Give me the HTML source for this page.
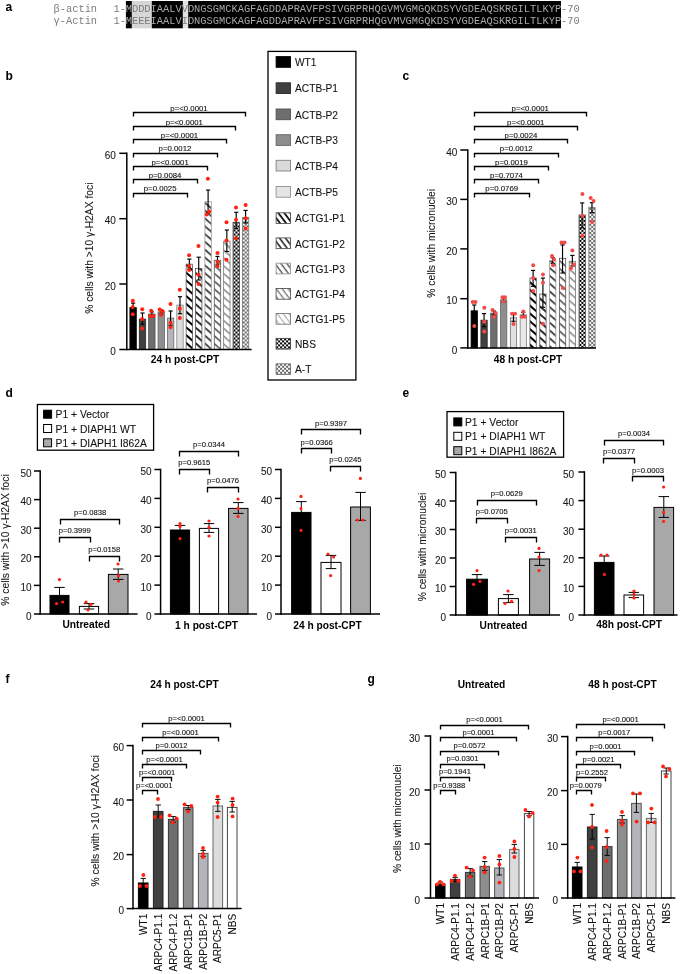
<!DOCTYPE html><html><head><meta charset="utf-8"><style>html,body{margin:0;padding:0;background:#fff;}svg{display:block;}</style></head><body>
<svg style="will-change:transform" width="685" height="974" viewBox="0 0 685 974">
<defs>
<pattern id="h1" patternUnits="userSpaceOnUse" width="5.9" height="5.9" patternTransform="rotate(41)"><rect width="5.9" height="5.9" fill="#fff"/><rect y="0" width="5.9" height="2.0" fill="#000"/></pattern>
<pattern id="h2" patternUnits="userSpaceOnUse" width="5.9" height="5.9" patternTransform="rotate(41)"><rect width="5.9" height="5.9" fill="#fff"/><rect y="0" width="5.9" height="1.8" fill="#1a1a1a"/></pattern>
<pattern id="h3" patternUnits="userSpaceOnUse" width="5.9" height="5.9" patternTransform="rotate(41)"><rect width="5.9" height="5.9" fill="#fff"/><rect y="0" width="5.9" height="1.7" fill="#363636"/></pattern>
<pattern id="h4" patternUnits="userSpaceOnUse" width="5.9" height="5.9" patternTransform="rotate(41)"><rect width="5.9" height="5.9" fill="#fff"/><rect y="0" width="5.9" height="1.6" fill="#555"/></pattern>
<pattern id="h5" patternUnits="userSpaceOnUse" width="5.9" height="5.9" patternTransform="rotate(41)"><rect width="5.9" height="5.9" fill="#fff"/><rect y="0" width="5.9" height="1.5" fill="#888"/></pattern>
<pattern id="lh1" patternUnits="userSpaceOnUse" width="4.75" height="4.75" patternTransform="rotate(53)"><rect width="4.75" height="4.75" fill="#fff"/><rect y="0" width="4.75" height="1.7" fill="#000"/></pattern>
<pattern id="lh2" patternUnits="userSpaceOnUse" width="4.75" height="4.75" patternTransform="rotate(53)"><rect width="4.75" height="4.75" fill="#fff"/><rect y="0" width="4.75" height="1.5" fill="#1a1a1a"/></pattern>
<pattern id="lh3" patternUnits="userSpaceOnUse" width="4.75" height="4.75" patternTransform="rotate(53)"><rect width="4.75" height="4.75" fill="#fff"/><rect y="0" width="4.75" height="1.4" fill="#555"/></pattern>
<pattern id="lh4" patternUnits="userSpaceOnUse" width="4.75" height="4.75" patternTransform="rotate(53)"><rect width="4.75" height="4.75" fill="#fff"/><rect y="0" width="4.75" height="1.3" fill="#777"/></pattern>
<pattern id="lh5" patternUnits="userSpaceOnUse" width="4.75" height="4.75" patternTransform="rotate(53)"><rect width="4.75" height="4.75" fill="#fff"/><rect y="0" width="4.75" height="1.2" fill="#b0b0b0"/></pattern>
<pattern id="nbs" patternUnits="userSpaceOnUse" width="2.4" height="2.4"><rect width="2.4" height="2.4" fill="#fff"/><rect width="1.2" height="1.2" fill="#000"/><rect x="1.2" y="1.2" width="1.2" height="1.2" fill="#000"/></pattern>
<pattern id="at" patternUnits="userSpaceOnUse" width="2.4" height="2.4"><rect width="2.4" height="2.4" fill="#fff"/><rect width="1.2" height="1.2" fill="#888"/><rect x="1.2" y="1.2" width="1.2" height="1.2" fill="#888"/></pattern>
</defs>
<rect width="685" height="974" fill="#fff"/>
<text x="5.6" y="10.6" font-size="12" text-anchor="start" font-weight="bold" fill="#000" font-family="Liberation Sans" >a</text>
<text x="5.6" y="80" font-size="12" text-anchor="start" font-weight="bold" fill="#000" font-family="Liberation Sans" >b</text>
<text x="402.4" y="80" font-size="12" text-anchor="start" font-weight="bold" fill="#000" font-family="Liberation Sans" >c</text>
<text x="5.6" y="397" font-size="12" text-anchor="start" font-weight="bold" fill="#000" font-family="Liberation Sans" >d</text>
<text x="402.4" y="397" font-size="12" text-anchor="start" font-weight="bold" fill="#000" font-family="Liberation Sans" >e</text>
<text x="5.6" y="683" font-size="12" text-anchor="start" font-weight="bold" fill="#000" font-family="Liberation Sans" >f</text>
<text x="367.4" y="682.6" font-size="12" text-anchor="start" font-weight="bold" fill="#000" font-family="Liberation Sans" >g</text>
<rect x="125.9" y="1" width="6" height="27.3" fill="#000" stroke="none" stroke-width="0.8"/>
<rect x="131.9" y="1" width="19.9" height="27.3" fill="#d6d6d6" stroke="none" stroke-width="0.8"/>
<rect x="151.8" y="1" width="31.1" height="27.3" fill="#000" stroke="none" stroke-width="0.8"/>
<rect x="182.9" y="1" width="5.3" height="27.3" fill="#e2e2e2" stroke="none" stroke-width="0.8"/>
<rect x="188.2" y="1" width="372.8" height="27.3" fill="#000" stroke="none" stroke-width="0.8"/>
<text x="53.6" y="12.1" font-size="10.35" text-anchor="start" font-weight="normal" fill="#7c7c7c" font-family="Liberation Mono" >&#946;-actin</text>
<text x="113.6" y="12.1" font-size="10.35" text-anchor="start" font-weight="normal" fill="#7c7c7c" font-family="Liberation Mono" >1-</text>
<text x="125.7" y="12.1" font-size="10.35" font-family="Liberation Mono" textLength="435.4" lengthAdjust="spacing"><tspan fill="#a8a8a8">M</tspan><tspan fill="#7c7c7c">D</tspan><tspan fill="#7c7c7c">D</tspan><tspan fill="#7c7c7c">D</tspan><tspan fill="#a8a8a8">I</tspan><tspan fill="#a8a8a8">A</tspan><tspan fill="#a8a8a8">A</tspan><tspan fill="#a8a8a8">L</tspan><tspan fill="#a8a8a8">V</tspan><tspan fill="#7c7c7c">V</tspan><tspan fill="#a8a8a8">D</tspan><tspan fill="#a8a8a8">N</tspan><tspan fill="#a8a8a8">G</tspan><tspan fill="#a8a8a8">S</tspan><tspan fill="#a8a8a8">G</tspan><tspan fill="#a8a8a8">M</tspan><tspan fill="#a8a8a8">C</tspan><tspan fill="#a8a8a8">K</tspan><tspan fill="#a8a8a8">A</tspan><tspan fill="#a8a8a8">G</tspan><tspan fill="#a8a8a8">F</tspan><tspan fill="#a8a8a8">A</tspan><tspan fill="#a8a8a8">G</tspan><tspan fill="#a8a8a8">D</tspan><tspan fill="#a8a8a8">D</tspan><tspan fill="#a8a8a8">A</tspan><tspan fill="#a8a8a8">P</tspan><tspan fill="#a8a8a8">R</tspan><tspan fill="#a8a8a8">A</tspan><tspan fill="#a8a8a8">V</tspan><tspan fill="#a8a8a8">F</tspan><tspan fill="#a8a8a8">P</tspan><tspan fill="#a8a8a8">S</tspan><tspan fill="#a8a8a8">I</tspan><tspan fill="#a8a8a8">V</tspan><tspan fill="#a8a8a8">G</tspan><tspan fill="#a8a8a8">R</tspan><tspan fill="#a8a8a8">P</tspan><tspan fill="#a8a8a8">R</tspan><tspan fill="#a8a8a8">H</tspan><tspan fill="#a8a8a8">Q</tspan><tspan fill="#a8a8a8">G</tspan><tspan fill="#a8a8a8">V</tspan><tspan fill="#a8a8a8">M</tspan><tspan fill="#a8a8a8">V</tspan><tspan fill="#a8a8a8">G</tspan><tspan fill="#a8a8a8">M</tspan><tspan fill="#a8a8a8">G</tspan><tspan fill="#a8a8a8">Q</tspan><tspan fill="#a8a8a8">K</tspan><tspan fill="#a8a8a8">D</tspan><tspan fill="#a8a8a8">S</tspan><tspan fill="#a8a8a8">Y</tspan><tspan fill="#a8a8a8">V</tspan><tspan fill="#a8a8a8">G</tspan><tspan fill="#a8a8a8">D</tspan><tspan fill="#a8a8a8">E</tspan><tspan fill="#a8a8a8">A</tspan><tspan fill="#a8a8a8">Q</tspan><tspan fill="#a8a8a8">S</tspan><tspan fill="#a8a8a8">K</tspan><tspan fill="#a8a8a8">R</tspan><tspan fill="#a8a8a8">G</tspan><tspan fill="#a8a8a8">I</tspan><tspan fill="#a8a8a8">L</tspan><tspan fill="#a8a8a8">T</tspan><tspan fill="#a8a8a8">L</tspan><tspan fill="#a8a8a8">K</tspan><tspan fill="#a8a8a8">Y</tspan><tspan fill="#a8a8a8">P</tspan></text>
<text x="561" y="12.1" font-size="10.35" text-anchor="start" font-weight="normal" fill="#7c7c7c" font-family="Liberation Mono" >-70</text>
<text x="53.6" y="24.4" font-size="10.35" text-anchor="start" font-weight="normal" fill="#7c7c7c" font-family="Liberation Mono" >&#947;-Actin</text>
<text x="113.6" y="24.4" font-size="10.35" text-anchor="start" font-weight="normal" fill="#7c7c7c" font-family="Liberation Mono" >1-</text>
<text x="125.7" y="24.4" font-size="10.35" font-family="Liberation Mono" textLength="435.4" lengthAdjust="spacing"><tspan fill="#a8a8a8">M</tspan><tspan fill="#7c7c7c">E</tspan><tspan fill="#7c7c7c">E</tspan><tspan fill="#7c7c7c">E</tspan><tspan fill="#a8a8a8">I</tspan><tspan fill="#a8a8a8">A</tspan><tspan fill="#a8a8a8">A</tspan><tspan fill="#a8a8a8">L</tspan><tspan fill="#a8a8a8">V</tspan><tspan fill="#7c7c7c">I</tspan><tspan fill="#a8a8a8">D</tspan><tspan fill="#a8a8a8">N</tspan><tspan fill="#a8a8a8">G</tspan><tspan fill="#a8a8a8">S</tspan><tspan fill="#a8a8a8">G</tspan><tspan fill="#a8a8a8">M</tspan><tspan fill="#a8a8a8">C</tspan><tspan fill="#a8a8a8">K</tspan><tspan fill="#a8a8a8">A</tspan><tspan fill="#a8a8a8">G</tspan><tspan fill="#a8a8a8">F</tspan><tspan fill="#a8a8a8">A</tspan><tspan fill="#a8a8a8">G</tspan><tspan fill="#a8a8a8">D</tspan><tspan fill="#a8a8a8">D</tspan><tspan fill="#a8a8a8">A</tspan><tspan fill="#a8a8a8">P</tspan><tspan fill="#a8a8a8">R</tspan><tspan fill="#a8a8a8">A</tspan><tspan fill="#a8a8a8">V</tspan><tspan fill="#a8a8a8">F</tspan><tspan fill="#a8a8a8">P</tspan><tspan fill="#a8a8a8">S</tspan><tspan fill="#a8a8a8">I</tspan><tspan fill="#a8a8a8">V</tspan><tspan fill="#a8a8a8">G</tspan><tspan fill="#a8a8a8">R</tspan><tspan fill="#a8a8a8">P</tspan><tspan fill="#a8a8a8">R</tspan><tspan fill="#a8a8a8">H</tspan><tspan fill="#a8a8a8">Q</tspan><tspan fill="#a8a8a8">G</tspan><tspan fill="#a8a8a8">V</tspan><tspan fill="#a8a8a8">M</tspan><tspan fill="#a8a8a8">V</tspan><tspan fill="#a8a8a8">G</tspan><tspan fill="#a8a8a8">M</tspan><tspan fill="#a8a8a8">G</tspan><tspan fill="#a8a8a8">Q</tspan><tspan fill="#a8a8a8">K</tspan><tspan fill="#a8a8a8">D</tspan><tspan fill="#a8a8a8">S</tspan><tspan fill="#a8a8a8">Y</tspan><tspan fill="#a8a8a8">V</tspan><tspan fill="#a8a8a8">G</tspan><tspan fill="#a8a8a8">D</tspan><tspan fill="#a8a8a8">E</tspan><tspan fill="#a8a8a8">A</tspan><tspan fill="#a8a8a8">Q</tspan><tspan fill="#a8a8a8">S</tspan><tspan fill="#a8a8a8">K</tspan><tspan fill="#a8a8a8">R</tspan><tspan fill="#a8a8a8">G</tspan><tspan fill="#a8a8a8">I</tspan><tspan fill="#a8a8a8">L</tspan><tspan fill="#a8a8a8">T</tspan><tspan fill="#a8a8a8">L</tspan><tspan fill="#a8a8a8">K</tspan><tspan fill="#a8a8a8">Y</tspan><tspan fill="#a8a8a8">P</tspan></text>
<text x="561" y="24.4" font-size="10.35" text-anchor="start" font-weight="normal" fill="#7c7c7c" font-family="Liberation Mono" >-70</text>
<line x1="126.8" y1="152.55" x2="126.8" y2="350.25" stroke="#000" stroke-width="1.5"/>
<line x1="119.3" y1="153.3" x2="126.8" y2="153.3" stroke="#000" stroke-width="1.5"/>
<text x="115.8" y="158.9" font-size="10" text-anchor="end" font-weight="normal" fill="#1a1a1a" font-family="Liberation Sans" stroke="#1a1a1a" stroke-width="0.08" >60</text>
<line x1="119.3" y1="218.7" x2="126.8" y2="218.7" stroke="#000" stroke-width="1.5"/>
<text x="115.8" y="224.3" font-size="10" text-anchor="end" font-weight="normal" fill="#1a1a1a" font-family="Liberation Sans" stroke="#1a1a1a" stroke-width="0.08" >40</text>
<line x1="119.3" y1="284" x2="126.8" y2="284" stroke="#000" stroke-width="1.5"/>
<text x="115.8" y="289.6" font-size="10" text-anchor="end" font-weight="normal" fill="#1a1a1a" font-family="Liberation Sans" stroke="#1a1a1a" stroke-width="0.08" >20</text>
<line x1="119.3" y1="349.5" x2="126.8" y2="349.5" stroke="#000" stroke-width="1.5"/>
<text x="115.8" y="355.1" font-size="10" text-anchor="end" font-weight="normal" fill="#1a1a1a" font-family="Liberation Sans" stroke="#1a1a1a" stroke-width="0.08" >0</text>
<rect x="129.9" y="307.6" width="6.4" height="41.9" fill="#000" stroke="#000" stroke-width="0.8"/>
<rect x="139.28" y="319.1" width="6.4" height="30.4" fill="#404040" stroke="#2a2a2a" stroke-width="0.8"/>
<rect x="148.65" y="314" width="6.4" height="35.5" fill="#6e6e6e" stroke="#505050" stroke-width="0.8"/>
<rect x="158.03" y="311.9" width="6.4" height="37.6" fill="#8e8e8e" stroke="#666" stroke-width="0.8"/>
<rect x="167.4" y="318.1" width="6.4" height="31.4" fill="#b4b4ba" stroke="#6a6a6a" stroke-width="0.8"/>
<rect x="176.78" y="305.1" width="6.4" height="44.4" fill="#dcdcdc" stroke="#8a8a8a" stroke-width="0.8"/>
<rect x="186.15" y="264.2" width="6.4" height="85.3" fill="url(#h1)" stroke="#555" stroke-width="0.8"/>
<rect x="195.53" y="268.4" width="6.4" height="81.1" fill="url(#h2)" stroke="#555" stroke-width="0.8"/>
<rect x="204.9" y="201.8" width="6.4" height="147.7" fill="url(#h3)" stroke="#999" stroke-width="0.8"/>
<rect x="214.28" y="260.3" width="6.4" height="89.2" fill="url(#h4)" stroke="#555" stroke-width="0.8"/>
<rect x="223.65" y="241.2" width="6.4" height="108.3" fill="url(#h5)" stroke="#777" stroke-width="0.8"/>
<defs><pattern id="ck1" patternUnits="userSpaceOnUse" x="233.43" y="349.5" width="4" height="4"><rect width="4" height="4" fill="#fff"/><rect width="2" height="2" fill="#000"/><rect x="2" y="2" width="2" height="2" fill="#000"/></pattern></defs>
<rect x="233.03" y="222.3" width="6.4" height="127.2" fill="url(#ck1)" stroke="#444" stroke-width="0.8"/>
<defs><pattern id="ck2" patternUnits="userSpaceOnUse" x="242.8" y="349.5" width="4" height="4"><rect width="4" height="4" fill="#fff"/><rect width="2" height="2" fill="#666"/><rect x="2" y="2" width="2" height="2" fill="#666"/></pattern></defs>
<rect x="242.4" y="217.4" width="6.4" height="132.1" fill="url(#ck2)" stroke="#777" stroke-width="0.8"/>
<line x1="133.1" y1="303.1" x2="133.1" y2="312.1" stroke="#000" stroke-width="1.15"/>
<line x1="131" y1="303.1" x2="135.2" y2="303.1" stroke="#000" stroke-width="1.15"/>
<line x1="131" y1="312.1" x2="135.2" y2="312.1" stroke="#000" stroke-width="1.15"/>
<line x1="142.47" y1="313" x2="142.47" y2="324.2" stroke="#000" stroke-width="1.15"/>
<line x1="140.38" y1="313" x2="144.57" y2="313" stroke="#000" stroke-width="1.15"/>
<line x1="140.38" y1="324.2" x2="144.57" y2="324.2" stroke="#000" stroke-width="1.15"/>
<line x1="151.85" y1="311.9" x2="151.85" y2="316.1" stroke="#000" stroke-width="1.15"/>
<line x1="149.75" y1="311.9" x2="153.95" y2="311.9" stroke="#000" stroke-width="1.15"/>
<line x1="149.75" y1="316.1" x2="153.95" y2="316.1" stroke="#000" stroke-width="1.15"/>
<line x1="161.22" y1="310" x2="161.22" y2="314" stroke="#000" stroke-width="1.15"/>
<line x1="159.12" y1="310" x2="163.32" y2="310" stroke="#000" stroke-width="1.15"/>
<line x1="159.12" y1="314" x2="163.32" y2="314" stroke="#000" stroke-width="1.15"/>
<line x1="170.6" y1="311" x2="170.6" y2="325.3" stroke="#000" stroke-width="1.15"/>
<line x1="168.5" y1="311" x2="172.7" y2="311" stroke="#000" stroke-width="1.15"/>
<line x1="168.5" y1="325.3" x2="172.7" y2="325.3" stroke="#000" stroke-width="1.15"/>
<line x1="179.97" y1="296.7" x2="179.97" y2="313.7" stroke="#000" stroke-width="1.15"/>
<line x1="177.88" y1="296.7" x2="182.07" y2="296.7" stroke="#000" stroke-width="1.15"/>
<line x1="177.88" y1="313.7" x2="182.07" y2="313.7" stroke="#000" stroke-width="1.15"/>
<line x1="189.35" y1="259.1" x2="189.35" y2="269.3" stroke="#000" stroke-width="1.15"/>
<line x1="187.25" y1="259.1" x2="191.45" y2="259.1" stroke="#000" stroke-width="1.15"/>
<line x1="187.25" y1="269.3" x2="191.45" y2="269.3" stroke="#000" stroke-width="1.15"/>
<line x1="198.72" y1="257.2" x2="198.72" y2="280" stroke="#000" stroke-width="1.15"/>
<line x1="196.62" y1="257.2" x2="200.82" y2="257.2" stroke="#000" stroke-width="1.15"/>
<line x1="196.62" y1="280" x2="200.82" y2="280" stroke="#000" stroke-width="1.15"/>
<line x1="208.1" y1="190.1" x2="208.1" y2="212.9" stroke="#000" stroke-width="1.15"/>
<line x1="206" y1="190.1" x2="210.2" y2="190.1" stroke="#000" stroke-width="1.15"/>
<line x1="206" y1="212.9" x2="210.2" y2="212.9" stroke="#000" stroke-width="1.15"/>
<line x1="217.47" y1="256.4" x2="217.47" y2="264.2" stroke="#000" stroke-width="1.15"/>
<line x1="215.38" y1="256.4" x2="219.57" y2="256.4" stroke="#000" stroke-width="1.15"/>
<line x1="215.38" y1="264.2" x2="219.57" y2="264.2" stroke="#000" stroke-width="1.15"/>
<line x1="226.85" y1="230" x2="226.85" y2="251.5" stroke="#000" stroke-width="1.15"/>
<line x1="224.75" y1="230" x2="228.95" y2="230" stroke="#000" stroke-width="1.15"/>
<line x1="224.75" y1="251.5" x2="228.95" y2="251.5" stroke="#000" stroke-width="1.15"/>
<line x1="236.22" y1="212.3" x2="236.22" y2="228.5" stroke="#000" stroke-width="1.15"/>
<line x1="234.12" y1="212.3" x2="238.32" y2="212.3" stroke="#000" stroke-width="1.15"/>
<line x1="234.12" y1="228.5" x2="238.32" y2="228.5" stroke="#000" stroke-width="1.15"/>
<line x1="245.6" y1="210.4" x2="245.6" y2="223" stroke="#000" stroke-width="1.15"/>
<line x1="243.5" y1="210.4" x2="247.7" y2="210.4" stroke="#000" stroke-width="1.15"/>
<line x1="243.5" y1="223" x2="247.7" y2="223" stroke="#000" stroke-width="1.15"/>
<circle cx="132.8" cy="300.8" r="2.0" fill="#ff2212"/>
<circle cx="132.8" cy="307" r="2.0" fill="#ff2212"/>
<circle cx="132.8" cy="314.2" r="2.0" fill="#ff2212"/>
<circle cx="142.2" cy="309.2" r="2.0" fill="#ff2212"/>
<circle cx="142.2" cy="319.1" r="2.0" fill="#ff2212"/>
<circle cx="142.2" cy="328.6" r="2.0" fill="#ff2212"/>
<circle cx="151.2" cy="310.7" r="2.0" fill="#ff2212"/>
<circle cx="150.1" cy="316" r="2.0" fill="#ff2212"/>
<circle cx="153.3" cy="316" r="2.0" fill="#ff2212"/>
<circle cx="159.7" cy="309.6" r="2.0" fill="#ff2212"/>
<circle cx="162.6" cy="311.3" r="2.0" fill="#ff2212"/>
<circle cx="160.9" cy="314.8" r="2.0" fill="#ff2212"/>
<circle cx="170.5" cy="304.1" r="2.0" fill="#ff2212"/>
<circle cx="170.5" cy="322.8" r="2.0" fill="#ff2212"/>
<circle cx="170.5" cy="327.3" r="2.0" fill="#ff2212"/>
<circle cx="179.8" cy="289.7" r="2.0" fill="#ff2212"/>
<circle cx="179.8" cy="308.6" r="2.0" fill="#ff2212"/>
<circle cx="179.8" cy="318.1" r="2.0" fill="#ff2212"/>
<circle cx="189.1" cy="255.3" r="2.0" fill="#ff2212"/>
<circle cx="189.1" cy="265.8" r="2.0" fill="#ff2212"/>
<circle cx="189.1" cy="270.1" r="2.0" fill="#ff2212"/>
<circle cx="198.5" cy="246" r="2.0" fill="#ff2212"/>
<circle cx="198.5" cy="274.8" r="2.0" fill="#ff2212"/>
<circle cx="198.5" cy="284.1" r="2.0" fill="#ff2212"/>
<circle cx="207.9" cy="178.8" r="2.0" fill="#ff2212"/>
<circle cx="209.3" cy="211.5" r="2.0" fill="#ff2212"/>
<circle cx="206.7" cy="214.5" r="2.0" fill="#ff2212"/>
<circle cx="217.5" cy="252.9" r="2.0" fill="#ff2212"/>
<circle cx="217.5" cy="261.7" r="2.0" fill="#ff2212"/>
<circle cx="217.5" cy="266.2" r="2.0" fill="#ff2212"/>
<circle cx="226.5" cy="222.3" r="2.0" fill="#ff2212"/>
<circle cx="226.5" cy="240.6" r="2.0" fill="#ff2212"/>
<circle cx="226.5" cy="259.7" r="2.0" fill="#ff2212"/>
<circle cx="236" cy="207.6" r="2.0" fill="#ff2212"/>
<circle cx="236" cy="219.7" r="2.0" fill="#ff2212"/>
<circle cx="236" cy="238.3" r="2.0" fill="#ff2212"/>
<circle cx="245.6" cy="205.1" r="2.0" fill="#ff2212"/>
<circle cx="245.6" cy="218.2" r="2.0" fill="#ff2212"/>
<circle cx="245.6" cy="228.5" r="2.0" fill="#ff2212"/>
<line x1="126.25" y1="349.5" x2="251.6" y2="349.5" stroke="#000" stroke-width="1.5"/>
<path d="M133.5,116.5 V112.5 H245.5 V116.5" fill="none" stroke="#000" stroke-width="1.35"/>
<text transform="translate(189,111.1) scale(1.15,1)" font-size="6.8" text-anchor="middle" fill="#111" stroke="#111" stroke-width="0.1" font-family="Liberation Sans">p=&lt;0.0001</text>
<path d="M133.5,130.5 V126.5 H235.5 V130.5" fill="none" stroke="#000" stroke-width="1.35"/>
<text transform="translate(184.3,124.8) scale(1.15,1)" font-size="6.8" text-anchor="middle" fill="#111" stroke="#111" stroke-width="0.1" font-family="Liberation Sans">p=&lt;0.0001</text>
<path d="M133.5,143.5 V139.5 H226.5 V143.5" fill="none" stroke="#000" stroke-width="1.35"/>
<text transform="translate(179.5,138.1) scale(1.15,1)" font-size="6.8" text-anchor="middle" fill="#111" stroke="#111" stroke-width="0.1" font-family="Liberation Sans">p=&lt;0.0001</text>
<path d="M133.5,157.5 V153.5 H217.5 V157.5" fill="none" stroke="#000" stroke-width="1.35"/>
<text transform="translate(175,151.3) scale(1.15,1)" font-size="6.8" text-anchor="middle" fill="#111" stroke="#111" stroke-width="0.1" font-family="Liberation Sans">p=0.0012</text>
<path d="M133.5,170.5 V166.5 H207.5 V170.5" fill="none" stroke="#000" stroke-width="1.35"/>
<text transform="translate(170.1,164.6) scale(1.15,1)" font-size="6.8" text-anchor="middle" fill="#111" stroke="#111" stroke-width="0.1" font-family="Liberation Sans">p=&lt;0.0001</text>
<path d="M133.5,183.5 V179.5 H197.5 V183.5" fill="none" stroke="#000" stroke-width="1.35"/>
<text transform="translate(165.05,177.9) scale(1.15,1)" font-size="6.8" text-anchor="middle" fill="#111" stroke="#111" stroke-width="0.1" font-family="Liberation Sans">p=0.0084</text>
<path d="M133.5,197.5 V193.5 H187.5 V197.5" fill="none" stroke="#000" stroke-width="1.35"/>
<text transform="translate(160.15,191.2) scale(1.15,1)" font-size="6.8" text-anchor="middle" fill="#111" stroke="#111" stroke-width="0.1" font-family="Liberation Sans">p=0.0025</text>
<text transform="translate(92.5,248.2) rotate(-90)" font-size="10.3" text-anchor="middle" font-weight="normal" fill="#1a1a1a" stroke="#1a1a1a" stroke-width="0.08" font-family="Liberation Sans">% cells with &gt;10 &#947;-H2AX foci</text>
<text x="185" y="362.6" font-size="10.2" text-anchor="middle" font-weight="bold" fill="#000" font-family="Liberation Sans" >24 h post-CPT</text>
<rect x="268" y="51.4" width="87.9" height="328.6" fill="none" stroke="#000" stroke-width="1.3"/>
<rect x="276.1" y="56.6" width="14.4" height="10.7" fill="#000" stroke="#000" stroke-width="0.9"/>
<text x="295" y="66.2" font-size="10.2" text-anchor="start" font-weight="normal" fill="#111" font-family="Liberation Sans" stroke="#111" stroke-width="0.08" >WT1</text>
<rect x="276.1" y="82.8" width="14.4" height="10.7" fill="#404040" stroke="#2a2a2a" stroke-width="0.9"/>
<text x="295" y="92.4" font-size="10.2" text-anchor="start" font-weight="normal" fill="#111" font-family="Liberation Sans" stroke="#111" stroke-width="0.08" >ACTB-P1</text>
<rect x="276.1" y="109" width="14.4" height="10.7" fill="#6e6e6e" stroke="#505050" stroke-width="0.9"/>
<text x="295" y="118.6" font-size="10.2" text-anchor="start" font-weight="normal" fill="#111" font-family="Liberation Sans" stroke="#111" stroke-width="0.08" >ACTB-P2</text>
<rect x="276.1" y="134.7" width="14.4" height="10.7" fill="#8e8e8e" stroke="#666" stroke-width="0.9"/>
<text x="295" y="144.3" font-size="10.2" text-anchor="start" font-weight="normal" fill="#111" font-family="Liberation Sans" stroke="#111" stroke-width="0.08" >ACTB-P3</text>
<rect x="276.1" y="160.3" width="14.4" height="10.7" fill="#d9d9d9" stroke="#808080" stroke-width="0.9"/>
<text x="295" y="169.9" font-size="10.2" text-anchor="start" font-weight="normal" fill="#111" font-family="Liberation Sans" stroke="#111" stroke-width="0.08" >ACTB-P4</text>
<rect x="276.1" y="186.5" width="14.4" height="10.7" fill="#e5e5e5" stroke="#909090" stroke-width="0.9"/>
<text x="295" y="196.1" font-size="10.2" text-anchor="start" font-weight="normal" fill="#111" font-family="Liberation Sans" stroke="#111" stroke-width="0.08" >ACTB-P5</text>
<rect x="276.1" y="212.8" width="14.4" height="10.7" fill="url(#lh1)" stroke="#555" stroke-width="0.9"/>
<text x="295" y="222.4" font-size="10.2" text-anchor="start" font-weight="normal" fill="#111" font-family="Liberation Sans" stroke="#111" stroke-width="0.08" >ACTG1-P1</text>
<rect x="276.1" y="237.9" width="14.4" height="10.7" fill="url(#lh2)" stroke="#555" stroke-width="0.9"/>
<text x="295" y="247.5" font-size="10.2" text-anchor="start" font-weight="normal" fill="#111" font-family="Liberation Sans" stroke="#111" stroke-width="0.08" >ACTG1-P2</text>
<rect x="276.1" y="263.2" width="14.4" height="10.7" fill="url(#lh3)" stroke="#999" stroke-width="0.9"/>
<text x="295" y="272.8" font-size="10.2" text-anchor="start" font-weight="normal" fill="#111" font-family="Liberation Sans" stroke="#111" stroke-width="0.08" >ACTG1-P3</text>
<rect x="276.1" y="288.5" width="14.4" height="10.7" fill="url(#lh4)" stroke="#555" stroke-width="0.9"/>
<text x="295" y="298.1" font-size="10.2" text-anchor="start" font-weight="normal" fill="#111" font-family="Liberation Sans" stroke="#111" stroke-width="0.08" >ACTG1-P4</text>
<rect x="276.1" y="313.5" width="14.4" height="10.7" fill="url(#lh5)" stroke="#777" stroke-width="0.9"/>
<text x="295" y="323.1" font-size="10.2" text-anchor="start" font-weight="normal" fill="#111" font-family="Liberation Sans" stroke="#111" stroke-width="0.08" >ACTG1-P5</text>
<defs><pattern id="ck3" patternUnits="userSpaceOnUse" x="276.1" y="338.4" width="4" height="4"><rect width="4" height="4" fill="#fff"/><rect width="2" height="2" fill="#000"/><rect x="2" y="2" width="2" height="2" fill="#000"/></pattern></defs>
<rect x="276.1" y="338.4" width="14.4" height="10.7" fill="url(#ck3)" stroke="#444" stroke-width="0.9"/>
<text x="295" y="348" font-size="10.2" text-anchor="start" font-weight="normal" fill="#111" font-family="Liberation Sans" stroke="#111" stroke-width="0.08" >NBS</text>
<defs><pattern id="ck4" patternUnits="userSpaceOnUse" x="276.1" y="363.8" width="4" height="4"><rect width="4" height="4" fill="#fff"/><rect width="2" height="2" fill="#666"/><rect x="2" y="2" width="2" height="2" fill="#666"/></pattern></defs>
<rect x="276.1" y="363.8" width="14.4" height="10.7" fill="url(#ck4)" stroke="#777" stroke-width="0.9"/>
<text x="295" y="373.4" font-size="10.2" text-anchor="start" font-weight="normal" fill="#111" font-family="Liberation Sans" stroke="#111" stroke-width="0.08" >A-T</text>
<line x1="467.8" y1="149.25" x2="467.8" y2="348.65" stroke="#000" stroke-width="1.5"/>
<line x1="460.3" y1="150" x2="467.8" y2="150" stroke="#000" stroke-width="1.5"/>
<text x="457.3" y="155.6" font-size="10" text-anchor="end" font-weight="normal" fill="#1a1a1a" font-family="Liberation Sans" stroke="#1a1a1a" stroke-width="0.08" >40</text>
<line x1="460.3" y1="199.4" x2="467.8" y2="199.4" stroke="#000" stroke-width="1.5"/>
<text x="457.3" y="205" font-size="10" text-anchor="end" font-weight="normal" fill="#1a1a1a" font-family="Liberation Sans" stroke="#1a1a1a" stroke-width="0.08" >30</text>
<line x1="460.3" y1="248.9" x2="467.8" y2="248.9" stroke="#000" stroke-width="1.5"/>
<text x="457.3" y="254.5" font-size="10" text-anchor="end" font-weight="normal" fill="#1a1a1a" font-family="Liberation Sans" stroke="#1a1a1a" stroke-width="0.08" >20</text>
<line x1="460.3" y1="298.7" x2="467.8" y2="298.7" stroke="#000" stroke-width="1.5"/>
<text x="457.3" y="304.3" font-size="10" text-anchor="end" font-weight="normal" fill="#1a1a1a" font-family="Liberation Sans" stroke="#1a1a1a" stroke-width="0.08" >10</text>
<line x1="460.3" y1="347.9" x2="467.8" y2="347.9" stroke="#000" stroke-width="1.5"/>
<text x="457.3" y="353.5" font-size="10" text-anchor="end" font-weight="normal" fill="#1a1a1a" font-family="Liberation Sans" stroke="#1a1a1a" stroke-width="0.08" >0</text>
<rect x="471.1" y="310.8" width="6.3" height="37.1" fill="#000" stroke="#000" stroke-width="0.8"/>
<rect x="480.91" y="320.2" width="6.3" height="27.7" fill="#404040" stroke="#2a2a2a" stroke-width="0.8"/>
<rect x="490.72" y="313.1" width="6.3" height="34.8" fill="#6e6e6e" stroke="#505050" stroke-width="0.8"/>
<rect x="500.53" y="299.8" width="6.3" height="48.1" fill="#8e8e8e" stroke="#666" stroke-width="0.8"/>
<rect x="510.34" y="317.8" width="6.3" height="30.1" fill="#e0e0e0" stroke="#707070" stroke-width="0.8"/>
<rect x="520.15" y="314.8" width="6.3" height="33.1" fill="#e8e8e8" stroke="#808080" stroke-width="0.8"/>
<rect x="529.96" y="278.1" width="6.3" height="69.8" fill="url(#h1)" stroke="#555" stroke-width="0.8"/>
<rect x="539.77" y="294" width="6.3" height="53.9" fill="url(#h2)" stroke="#555" stroke-width="0.8"/>
<rect x="549.58" y="260.6" width="6.3" height="87.3" fill="url(#h3)" stroke="#999" stroke-width="0.8"/>
<rect x="559.39" y="258.3" width="6.3" height="89.6" fill="url(#h4)" stroke="#555" stroke-width="0.8"/>
<rect x="569.2" y="261.3" width="6.3" height="86.6" fill="url(#h5)" stroke="#777" stroke-width="0.8"/>
<defs><pattern id="ck5" patternUnits="userSpaceOnUse" x="579.41" y="347.9" width="4" height="4"><rect width="4" height="4" fill="#fff"/><rect width="2" height="2" fill="#000"/><rect x="2" y="2" width="2" height="2" fill="#000"/></pattern></defs>
<rect x="579.01" y="215" width="6.3" height="132.9" fill="url(#ck5)" stroke="#444" stroke-width="0.8"/>
<defs><pattern id="ck6" patternUnits="userSpaceOnUse" x="589.22" y="347.9" width="4" height="4"><rect width="4" height="4" fill="#fff"/><rect width="2" height="2" fill="#666"/><rect x="2" y="2" width="2" height="2" fill="#666"/></pattern></defs>
<rect x="588.82" y="207.3" width="6.3" height="140.6" fill="url(#ck6)" stroke="#777" stroke-width="0.8"/>
<line x1="474.25" y1="305" x2="474.25" y2="316.6" stroke="#000" stroke-width="1.15"/>
<line x1="472.15" y1="305" x2="476.35" y2="305" stroke="#000" stroke-width="1.15"/>
<line x1="472.15" y1="316.6" x2="476.35" y2="316.6" stroke="#000" stroke-width="1.15"/>
<line x1="484.06" y1="313.6" x2="484.06" y2="326.7" stroke="#000" stroke-width="1.15"/>
<line x1="481.96" y1="313.6" x2="486.16" y2="313.6" stroke="#000" stroke-width="1.15"/>
<line x1="481.96" y1="326.7" x2="486.16" y2="326.7" stroke="#000" stroke-width="1.15"/>
<line x1="493.87" y1="311" x2="493.87" y2="315.2" stroke="#000" stroke-width="1.15"/>
<line x1="491.77" y1="311" x2="495.97" y2="311" stroke="#000" stroke-width="1.15"/>
<line x1="491.77" y1="315.2" x2="495.97" y2="315.2" stroke="#000" stroke-width="1.15"/>
<line x1="503.68" y1="297.5" x2="503.68" y2="302" stroke="#000" stroke-width="1.15"/>
<line x1="501.58" y1="297.5" x2="505.78" y2="297.5" stroke="#000" stroke-width="1.15"/>
<line x1="501.58" y1="302" x2="505.78" y2="302" stroke="#000" stroke-width="1.15"/>
<line x1="513.49" y1="314.3" x2="513.49" y2="321.3" stroke="#000" stroke-width="1.15"/>
<line x1="511.39" y1="314.3" x2="515.59" y2="314.3" stroke="#000" stroke-width="1.15"/>
<line x1="511.39" y1="321.3" x2="515.59" y2="321.3" stroke="#000" stroke-width="1.15"/>
<line x1="523.3" y1="312.5" x2="523.3" y2="317" stroke="#000" stroke-width="1.15"/>
<line x1="521.2" y1="312.5" x2="525.4" y2="312.5" stroke="#000" stroke-width="1.15"/>
<line x1="521.2" y1="317" x2="525.4" y2="317" stroke="#000" stroke-width="1.15"/>
<line x1="533.11" y1="270.4" x2="533.11" y2="286.3" stroke="#000" stroke-width="1.15"/>
<line x1="531.01" y1="270.4" x2="535.21" y2="270.4" stroke="#000" stroke-width="1.15"/>
<line x1="531.01" y1="286.3" x2="535.21" y2="286.3" stroke="#000" stroke-width="1.15"/>
<line x1="542.92" y1="278.1" x2="542.92" y2="307.3" stroke="#000" stroke-width="1.15"/>
<line x1="540.82" y1="278.1" x2="545.02" y2="278.1" stroke="#000" stroke-width="1.15"/>
<line x1="540.82" y1="307.3" x2="545.02" y2="307.3" stroke="#000" stroke-width="1.15"/>
<line x1="552.73" y1="257.8" x2="552.73" y2="263.4" stroke="#000" stroke-width="1.15"/>
<line x1="550.63" y1="257.8" x2="554.83" y2="257.8" stroke="#000" stroke-width="1.15"/>
<line x1="550.63" y1="263.4" x2="554.83" y2="263.4" stroke="#000" stroke-width="1.15"/>
<line x1="562.54" y1="244.9" x2="562.54" y2="273" stroke="#000" stroke-width="1.15"/>
<line x1="560.44" y1="244.9" x2="564.64" y2="244.9" stroke="#000" stroke-width="1.15"/>
<line x1="560.44" y1="273" x2="564.64" y2="273" stroke="#000" stroke-width="1.15"/>
<line x1="572.35" y1="255.4" x2="572.35" y2="266" stroke="#000" stroke-width="1.15"/>
<line x1="570.25" y1="255.4" x2="574.45" y2="255.4" stroke="#000" stroke-width="1.15"/>
<line x1="570.25" y1="266" x2="574.45" y2="266" stroke="#000" stroke-width="1.15"/>
<line x1="582.16" y1="202.9" x2="582.16" y2="227.9" stroke="#000" stroke-width="1.15"/>
<line x1="580.06" y1="202.9" x2="584.26" y2="202.9" stroke="#000" stroke-width="1.15"/>
<line x1="580.06" y1="227.9" x2="584.26" y2="227.9" stroke="#000" stroke-width="1.15"/>
<line x1="591.97" y1="202.7" x2="591.97" y2="212.7" stroke="#000" stroke-width="1.15"/>
<line x1="589.87" y1="202.7" x2="594.07" y2="202.7" stroke="#000" stroke-width="1.15"/>
<line x1="589.87" y1="212.7" x2="594.07" y2="212.7" stroke="#000" stroke-width="1.15"/>
<circle cx="472.7" cy="301.9" r="2.0" fill="#f24a46"/>
<circle cx="475.5" cy="301.9" r="2.0" fill="#f24a46"/>
<circle cx="474.3" cy="326" r="2.0" fill="#f24a46"/>
<circle cx="484.3" cy="307.8" r="2.0" fill="#f24a46"/>
<circle cx="484.3" cy="321.8" r="2.0" fill="#f24a46"/>
<circle cx="484.3" cy="331.4" r="2.0" fill="#f24a46"/>
<circle cx="492.5" cy="310.1" r="2.0" fill="#f24a46"/>
<circle cx="495.5" cy="313.1" r="2.0" fill="#f24a46"/>
<circle cx="494" cy="316.7" r="2.0" fill="#f24a46"/>
<circle cx="502.5" cy="297.3" r="2.0" fill="#f24a46"/>
<circle cx="505" cy="297.3" r="2.0" fill="#f24a46"/>
<circle cx="503.7" cy="301.5" r="2.0" fill="#f24a46"/>
<circle cx="512" cy="313.8" r="2.0" fill="#f24a46"/>
<circle cx="515" cy="313.8" r="2.0" fill="#f24a46"/>
<circle cx="513.5" cy="324.1" r="2.0" fill="#f24a46"/>
<circle cx="523.3" cy="311.5" r="2.0" fill="#f24a46"/>
<circle cx="521.8" cy="316.7" r="2.0" fill="#f24a46"/>
<circle cx="524.8" cy="316.7" r="2.0" fill="#f24a46"/>
<circle cx="533.2" cy="265.3" r="2.0" fill="#f24a46"/>
<circle cx="533.2" cy="278.1" r="2.0" fill="#f24a46"/>
<circle cx="533.2" cy="291" r="2.0" fill="#f24a46"/>
<circle cx="543" cy="274.6" r="2.0" fill="#f24a46"/>
<circle cx="543" cy="282.8" r="2.0" fill="#f24a46"/>
<circle cx="543" cy="323.7" r="2.0" fill="#f24a46"/>
<circle cx="552" cy="255.9" r="2.0" fill="#f24a46"/>
<circle cx="554" cy="259.4" r="2.0" fill="#f24a46"/>
<circle cx="553" cy="265.3" r="2.0" fill="#f24a46"/>
<circle cx="561.5" cy="242.4" r="2.0" fill="#f24a46"/>
<circle cx="564.5" cy="242.4" r="2.0" fill="#f24a46"/>
<circle cx="562.9" cy="287.9" r="2.0" fill="#f24a46"/>
<circle cx="572.4" cy="250.5" r="2.0" fill="#f24a46"/>
<circle cx="573.8" cy="264.5" r="2.0" fill="#f24a46"/>
<circle cx="571" cy="268.3" r="2.0" fill="#f24a46"/>
<circle cx="582.4" cy="194" r="2.0" fill="#f24a46"/>
<circle cx="582.4" cy="215.7" r="2.0" fill="#f24a46"/>
<circle cx="582.4" cy="235.4" r="2.0" fill="#f24a46"/>
<circle cx="590.7" cy="198" r="2.0" fill="#f24a46"/>
<circle cx="593.5" cy="201" r="2.0" fill="#f24a46"/>
<circle cx="592" cy="222" r="2.0" fill="#f24a46"/>
<line x1="467.25" y1="347.9" x2="596" y2="347.9" stroke="#000" stroke-width="1.5"/>
<path d="M474.5,116.5 V112.5 H586.5 V116.5" fill="none" stroke="#000" stroke-width="1.35"/>
<text transform="translate(530.25,111.1) scale(1.15,1)" font-size="6.8" text-anchor="middle" fill="#111" stroke="#111" stroke-width="0.1" font-family="Liberation Sans">p=&lt;0.0001</text>
<path d="M474.5,130.5 V126.5 H577.5 V130.5" fill="none" stroke="#000" stroke-width="1.35"/>
<text transform="translate(525.7,124.8) scale(1.15,1)" font-size="6.8" text-anchor="middle" fill="#111" stroke="#111" stroke-width="0.1" font-family="Liberation Sans">p=&lt;0.0001</text>
<path d="M474.5,143.5 V139.5 H567.5 V143.5" fill="none" stroke="#000" stroke-width="1.35"/>
<text transform="translate(520.95,138.1) scale(1.15,1)" font-size="6.8" text-anchor="middle" fill="#111" stroke="#111" stroke-width="0.1" font-family="Liberation Sans">p=0.0024</text>
<path d="M474.5,157.5 V153.5 H558.5 V157.5" fill="none" stroke="#000" stroke-width="1.35"/>
<text transform="translate(516.2,151.3) scale(1.15,1)" font-size="6.8" text-anchor="middle" fill="#111" stroke="#111" stroke-width="0.1" font-family="Liberation Sans">p=0.0012</text>
<path d="M474.5,170.5 V166.5 H548.5 V170.5" fill="none" stroke="#000" stroke-width="1.35"/>
<text transform="translate(511.45,164.6) scale(1.15,1)" font-size="6.8" text-anchor="middle" fill="#111" stroke="#111" stroke-width="0.1" font-family="Liberation Sans">p=0.0019</text>
<path d="M474.5,183.5 V179.5 H538.5 V183.5" fill="none" stroke="#000" stroke-width="1.35"/>
<text transform="translate(506.5,177.9) scale(1.15,1)" font-size="6.8" text-anchor="middle" fill="#111" stroke="#111" stroke-width="0.1" font-family="Liberation Sans">p=0.7074</text>
<path d="M474.5,197.5 V193.5 H529.5 V197.5" fill="none" stroke="#000" stroke-width="1.35"/>
<text transform="translate(501.7,191.2) scale(1.15,1)" font-size="6.8" text-anchor="middle" fill="#111" stroke="#111" stroke-width="0.1" font-family="Liberation Sans">p=0.0769</text>
<text transform="translate(435,243.3) rotate(-90)" font-size="10.3" text-anchor="middle" font-weight="normal" fill="#1a1a1a" stroke="#1a1a1a" stroke-width="0.08" font-family="Liberation Sans">% cells with micronuclei</text>
<text x="528" y="362.7" font-size="10.2" text-anchor="middle" font-weight="bold" fill="#000" font-family="Liberation Sans" >48 h post-CPT</text>
<rect x="37.4" y="404.5" width="116.2" height="45.7" fill="none" stroke="#000" stroke-width="1.3"/>
<rect x="43.6" y="410.2" width="8" height="8" fill="#000" stroke="#000" stroke-width="1.0"/>
<text x="55.6" y="418.2" font-size="10.3" text-anchor="start" font-weight="normal" fill="#111" font-family="Liberation Sans" stroke="#111" stroke-width="0.08" >P1 + Vector</text>
<rect x="43.6" y="424.5" width="8" height="8" fill="#fff" stroke="#000" stroke-width="1.0"/>
<text x="55.6" y="432.5" font-size="10.3" text-anchor="start" font-weight="normal" fill="#111" font-family="Liberation Sans" stroke="#111" stroke-width="0.08" >P1 + DIAPH1 WT</text>
<rect x="43.6" y="438.8" width="8" height="8" fill="#a8a8a8" stroke="#000" stroke-width="1.0"/>
<text x="55.6" y="446.8" font-size="10.3" text-anchor="start" font-weight="normal" fill="#111" font-family="Liberation Sans" stroke="#111" stroke-width="0.08" >P1 + DIAPH1 I862A</text>
<rect x="447" y="411.6" width="116.6" height="45.6" fill="none" stroke="#000" stroke-width="1.3"/>
<rect x="453.8" y="417.9" width="8" height="8" fill="#000" stroke="#000" stroke-width="1.0"/>
<text x="465" y="425.8" font-size="10.3" text-anchor="start" font-weight="normal" fill="#111" font-family="Liberation Sans" stroke="#111" stroke-width="0.08" >P1 + Vector</text>
<rect x="453.8" y="432.3" width="8" height="8" fill="#fff" stroke="#000" stroke-width="1.0"/>
<text x="465" y="440.2" font-size="10.3" text-anchor="start" font-weight="normal" fill="#111" font-family="Liberation Sans" stroke="#111" stroke-width="0.08" >P1 + DIAPH1 WT</text>
<rect x="453.8" y="446.7" width="8" height="8" fill="#a8a8a8" stroke="#000" stroke-width="1.0"/>
<text x="465" y="454.6" font-size="10.3" text-anchor="start" font-weight="normal" fill="#111" font-family="Liberation Sans" stroke="#111" stroke-width="0.08" >P1 + DIAPH1 I862A</text>
<line x1="40.2" y1="470.25" x2="40.2" y2="614.75" stroke="#000" stroke-width="1.5"/>
<line x1="34" y1="614" x2="40.2" y2="614" stroke="#000" stroke-width="1.5"/>
<text x="31.6" y="619.6" font-size="10" text-anchor="end" font-weight="normal" fill="#1a1a1a" font-family="Liberation Sans" stroke="#1a1a1a" stroke-width="0.08" >0</text>
<line x1="34" y1="585.4" x2="40.2" y2="585.4" stroke="#000" stroke-width="1.5"/>
<text x="31.6" y="591" font-size="10" text-anchor="end" font-weight="normal" fill="#1a1a1a" font-family="Liberation Sans" stroke="#1a1a1a" stroke-width="0.08" >10</text>
<line x1="34" y1="556.8" x2="40.2" y2="556.8" stroke="#000" stroke-width="1.5"/>
<text x="31.6" y="562.4" font-size="10" text-anchor="end" font-weight="normal" fill="#1a1a1a" font-family="Liberation Sans" stroke="#1a1a1a" stroke-width="0.08" >20</text>
<line x1="34" y1="528.2" x2="40.2" y2="528.2" stroke="#000" stroke-width="1.5"/>
<text x="31.6" y="533.8" font-size="10" text-anchor="end" font-weight="normal" fill="#1a1a1a" font-family="Liberation Sans" stroke="#1a1a1a" stroke-width="0.08" >30</text>
<line x1="34" y1="499.6" x2="40.2" y2="499.6" stroke="#000" stroke-width="1.5"/>
<text x="31.6" y="505.2" font-size="10" text-anchor="end" font-weight="normal" fill="#1a1a1a" font-family="Liberation Sans" stroke="#1a1a1a" stroke-width="0.08" >40</text>
<line x1="34" y1="471" x2="40.2" y2="471" stroke="#000" stroke-width="1.5"/>
<text x="31.6" y="476.6" font-size="10" text-anchor="end" font-weight="normal" fill="#1a1a1a" font-family="Liberation Sans" stroke="#1a1a1a" stroke-width="0.08" >50</text>
<rect x="50" y="595.4" width="19" height="18.6" fill="#000" stroke="#000" stroke-width="1.0"/>
<rect x="79.4" y="606.4" width="19.2" height="7.6" fill="#fff" stroke="#000" stroke-width="1.0"/>
<rect x="108.4" y="574.4" width="19.6" height="39.6" fill="#a8a8a8" stroke="#000" stroke-width="1.0"/>
<line x1="59.5" y1="587.4" x2="59.5" y2="603.4" stroke="#000" stroke-width="1.0"/>
<line x1="54.25" y1="587.4" x2="64.75" y2="587.4" stroke="#000" stroke-width="1.0"/>
<line x1="54.25" y1="603.4" x2="64.75" y2="603.4" stroke="#000" stroke-width="1.0"/>
<line x1="89" y1="603.6" x2="89" y2="609" stroke="#000" stroke-width="1.0"/>
<line x1="83.75" y1="603.6" x2="94.25" y2="603.6" stroke="#000" stroke-width="1.0"/>
<line x1="83.75" y1="609" x2="94.25" y2="609" stroke="#000" stroke-width="1.0"/>
<line x1="118.2" y1="569" x2="118.2" y2="579.4" stroke="#000" stroke-width="1.0"/>
<line x1="112.95" y1="569" x2="123.45" y2="569" stroke="#000" stroke-width="1.0"/>
<line x1="112.95" y1="579.4" x2="123.45" y2="579.4" stroke="#000" stroke-width="1.0"/>
<circle cx="59.4" cy="579.6" r="1.6" fill="#ff2212"/>
<circle cx="56.6" cy="603.6" r="1.6" fill="#ff2212"/>
<circle cx="62.6" cy="602" r="1.6" fill="#ff2212"/>
<circle cx="86" cy="602" r="1.6" fill="#ff2212"/>
<circle cx="91" cy="604.4" r="1.6" fill="#ff2212"/>
<circle cx="88" cy="610" r="1.6" fill="#ff2212"/>
<circle cx="118" cy="564" r="1.6" fill="#ff2212"/>
<circle cx="118.6" cy="575.6" r="1.6" fill="#ff2212"/>
<circle cx="118.6" cy="581" r="1.6" fill="#ff2212"/>
<line x1="39.45" y1="614" x2="137.6" y2="614" stroke="#000" stroke-width="1.5"/>
<text x="86.2" y="628" font-size="10.2" text-anchor="middle" font-weight="bold" fill="#000" font-family="Liberation Sans" >Untreated</text>
<path d="M60.5,524.5 V519.5 H119.5 V524.5" fill="none" stroke="#000" stroke-width="1.35"/>
<text transform="translate(90.1,514.9) scale(1.08,1)" font-size="7.1" text-anchor="middle" fill="#111" stroke="#111" stroke-width="0.1" font-family="Liberation Sans">p=0.0838</text>
<path d="M59.5,542.5 V537.5 H90.5 V542.5" fill="none" stroke="#000" stroke-width="1.35"/>
<text transform="translate(74.8,532.9) scale(1.08,1)" font-size="7.1" text-anchor="middle" fill="#111" stroke="#111" stroke-width="0.1" font-family="Liberation Sans">p=0.3999</text>
<path d="M89.5,561.5 V556.5 H119.5 V561.5" fill="none" stroke="#000" stroke-width="1.35"/>
<text transform="translate(104.3,551.9) scale(1.08,1)" font-size="7.1" text-anchor="middle" fill="#111" stroke="#111" stroke-width="0.1" font-family="Liberation Sans">p=0.0158</text>
<text transform="translate(9,540) rotate(-90)" font-size="10.3" text-anchor="middle" font-weight="normal" fill="#1a1a1a" stroke="#1a1a1a" stroke-width="0.08" font-family="Liberation Sans">% cells with &gt;10 &#947;-H2AX foci</text>
<line x1="160.6" y1="468.75" x2="160.6" y2="614.75" stroke="#000" stroke-width="1.5"/>
<line x1="154.4" y1="614" x2="160.6" y2="614" stroke="#000" stroke-width="1.5"/>
<text x="151.5" y="619.6" font-size="10" text-anchor="end" font-weight="normal" fill="#1a1a1a" font-family="Liberation Sans" stroke="#1a1a1a" stroke-width="0.08" >0</text>
<line x1="154.4" y1="585.1" x2="160.6" y2="585.1" stroke="#000" stroke-width="1.5"/>
<text x="151.5" y="590.7" font-size="10" text-anchor="end" font-weight="normal" fill="#1a1a1a" font-family="Liberation Sans" stroke="#1a1a1a" stroke-width="0.08" >10</text>
<line x1="154.4" y1="556.2" x2="160.6" y2="556.2" stroke="#000" stroke-width="1.5"/>
<text x="151.5" y="561.8" font-size="10" text-anchor="end" font-weight="normal" fill="#1a1a1a" font-family="Liberation Sans" stroke="#1a1a1a" stroke-width="0.08" >20</text>
<line x1="154.4" y1="527.3" x2="160.6" y2="527.3" stroke="#000" stroke-width="1.5"/>
<text x="151.5" y="532.9" font-size="10" text-anchor="end" font-weight="normal" fill="#1a1a1a" font-family="Liberation Sans" stroke="#1a1a1a" stroke-width="0.08" >30</text>
<line x1="154.4" y1="498.4" x2="160.6" y2="498.4" stroke="#000" stroke-width="1.5"/>
<text x="151.5" y="504" font-size="10" text-anchor="end" font-weight="normal" fill="#1a1a1a" font-family="Liberation Sans" stroke="#1a1a1a" stroke-width="0.08" >40</text>
<line x1="154.4" y1="469.5" x2="160.6" y2="469.5" stroke="#000" stroke-width="1.5"/>
<text x="151.5" y="475.1" font-size="10" text-anchor="end" font-weight="normal" fill="#1a1a1a" font-family="Liberation Sans" stroke="#1a1a1a" stroke-width="0.08" >50</text>
<rect x="170.4" y="530" width="19.2" height="84" fill="#000" stroke="#000" stroke-width="1.0"/>
<rect x="199.4" y="528.4" width="19.2" height="85.6" fill="#fff" stroke="#000" stroke-width="1.0"/>
<rect x="228.6" y="508.4" width="19.4" height="105.6" fill="#a8a8a8" stroke="#000" stroke-width="1.0"/>
<line x1="180" y1="525.4" x2="180" y2="534.6" stroke="#000" stroke-width="1.0"/>
<line x1="174.75" y1="525.4" x2="185.25" y2="525.4" stroke="#000" stroke-width="1.0"/>
<line x1="174.75" y1="534.6" x2="185.25" y2="534.6" stroke="#000" stroke-width="1.0"/>
<line x1="209" y1="523.6" x2="209" y2="532.4" stroke="#000" stroke-width="1.0"/>
<line x1="203.75" y1="523.6" x2="214.25" y2="523.6" stroke="#000" stroke-width="1.0"/>
<line x1="203.75" y1="532.4" x2="214.25" y2="532.4" stroke="#000" stroke-width="1.0"/>
<line x1="238.3" y1="502.6" x2="238.3" y2="513.4" stroke="#000" stroke-width="1.0"/>
<line x1="233.05" y1="502.6" x2="243.55" y2="502.6" stroke="#000" stroke-width="1.0"/>
<line x1="233.05" y1="513.4" x2="243.55" y2="513.4" stroke="#000" stroke-width="1.0"/>
<circle cx="180" cy="523.6" r="1.6" fill="#ff2212"/>
<circle cx="180" cy="526.4" r="1.6" fill="#ff2212"/>
<circle cx="180" cy="538.6" r="1.6" fill="#ff2212"/>
<circle cx="209" cy="521" r="1.6" fill="#ff2212"/>
<circle cx="209" cy="527.4" r="1.6" fill="#ff2212"/>
<circle cx="209" cy="536" r="1.6" fill="#ff2212"/>
<circle cx="238" cy="499" r="1.6" fill="#ff2212"/>
<circle cx="238" cy="508.4" r="1.6" fill="#ff2212"/>
<circle cx="238" cy="516.4" r="1.6" fill="#ff2212"/>
<line x1="159.85" y1="614" x2="257" y2="614" stroke="#000" stroke-width="1.5"/>
<text x="206.5" y="628.6" font-size="10.2" text-anchor="middle" font-weight="bold" fill="#000" font-family="Liberation Sans" >1 h post-CPT</text>
<path d="M179.5,456.5 V451.5 H238.5 V456.5" fill="none" stroke="#000" stroke-width="1.35"/>
<text transform="translate(209,446.9) scale(1.08,1)" font-size="7.1" text-anchor="middle" fill="#111" stroke="#111" stroke-width="0.1" font-family="Liberation Sans">p=0.0344</text>
<path d="M179.5,474.5 V469.5 H209.5 V474.5" fill="none" stroke="#000" stroke-width="1.35"/>
<text transform="translate(194.3,464.9) scale(1.08,1)" font-size="7.1" text-anchor="middle" fill="#111" stroke="#111" stroke-width="0.1" font-family="Liberation Sans">p=0.9615</text>
<path d="M207.5,492.5 V487.5 H238.5 V492.5" fill="none" stroke="#000" stroke-width="1.35"/>
<text transform="translate(223,483.3) scale(1.08,1)" font-size="7.1" text-anchor="middle" fill="#111" stroke="#111" stroke-width="0.1" font-family="Liberation Sans">p=0.0476</text>
<line x1="281" y1="468.75" x2="281" y2="614.75" stroke="#000" stroke-width="1.5"/>
<line x1="275" y1="614" x2="281" y2="614" stroke="#000" stroke-width="1.5"/>
<text x="272" y="619.6" font-size="10" text-anchor="end" font-weight="normal" fill="#1a1a1a" font-family="Liberation Sans" stroke="#1a1a1a" stroke-width="0.08" >0</text>
<line x1="275" y1="585.1" x2="281" y2="585.1" stroke="#000" stroke-width="1.5"/>
<text x="272" y="590.7" font-size="10" text-anchor="end" font-weight="normal" fill="#1a1a1a" font-family="Liberation Sans" stroke="#1a1a1a" stroke-width="0.08" >10</text>
<line x1="275" y1="556.2" x2="281" y2="556.2" stroke="#000" stroke-width="1.5"/>
<text x="272" y="561.8" font-size="10" text-anchor="end" font-weight="normal" fill="#1a1a1a" font-family="Liberation Sans" stroke="#1a1a1a" stroke-width="0.08" >20</text>
<line x1="275" y1="527.3" x2="281" y2="527.3" stroke="#000" stroke-width="1.5"/>
<text x="272" y="532.9" font-size="10" text-anchor="end" font-weight="normal" fill="#1a1a1a" font-family="Liberation Sans" stroke="#1a1a1a" stroke-width="0.08" >30</text>
<line x1="275" y1="498.4" x2="281" y2="498.4" stroke="#000" stroke-width="1.5"/>
<text x="272" y="504" font-size="10" text-anchor="end" font-weight="normal" fill="#1a1a1a" font-family="Liberation Sans" stroke="#1a1a1a" stroke-width="0.08" >40</text>
<line x1="275" y1="469.5" x2="281" y2="469.5" stroke="#000" stroke-width="1.5"/>
<text x="272" y="475.1" font-size="10" text-anchor="end" font-weight="normal" fill="#1a1a1a" font-family="Liberation Sans" stroke="#1a1a1a" stroke-width="0.08" >50</text>
<rect x="291.6" y="512.4" width="19.4" height="101.6" fill="#000" stroke="#000" stroke-width="1.0"/>
<rect x="321" y="562.4" width="20" height="51.6" fill="#fff" stroke="#000" stroke-width="1.0"/>
<rect x="350.6" y="507" width="19.8" height="107" fill="#a8a8a8" stroke="#000" stroke-width="1.0"/>
<line x1="301.3" y1="501.6" x2="301.3" y2="523.2" stroke="#000" stroke-width="1.0"/>
<line x1="296.05" y1="501.6" x2="306.55" y2="501.6" stroke="#000" stroke-width="1.0"/>
<line x1="296.05" y1="523.2" x2="306.55" y2="523.2" stroke="#000" stroke-width="1.0"/>
<line x1="331" y1="555.4" x2="331" y2="568.6" stroke="#000" stroke-width="1.0"/>
<line x1="325.75" y1="555.4" x2="336.25" y2="555.4" stroke="#000" stroke-width="1.0"/>
<line x1="325.75" y1="568.6" x2="336.25" y2="568.6" stroke="#000" stroke-width="1.0"/>
<line x1="360.5" y1="492.4" x2="360.5" y2="520.4" stroke="#000" stroke-width="1.0"/>
<line x1="355.25" y1="492.4" x2="365.75" y2="492.4" stroke="#000" stroke-width="1.0"/>
<line x1="355.25" y1="520.4" x2="365.75" y2="520.4" stroke="#000" stroke-width="1.0"/>
<circle cx="301" cy="496.4" r="1.6" fill="#ff2212"/>
<circle cx="301" cy="508.6" r="1.6" fill="#ff2212"/>
<circle cx="301" cy="530.4" r="1.6" fill="#ff2212"/>
<circle cx="328" cy="554" r="1.6" fill="#ff2212"/>
<circle cx="333.6" cy="557" r="1.6" fill="#ff2212"/>
<circle cx="330.6" cy="575.6" r="1.6" fill="#ff2212"/>
<circle cx="360.4" cy="478.4" r="1.6" fill="#ff2212"/>
<circle cx="357.4" cy="520" r="1.6" fill="#ff2212"/>
<circle cx="363" cy="520" r="1.6" fill="#ff2212"/>
<line x1="280.25" y1="614" x2="380" y2="614" stroke="#000" stroke-width="1.5"/>
<text x="327.5" y="628.6" font-size="10.2" text-anchor="middle" font-weight="bold" fill="#000" font-family="Liberation Sans" >24 h post-CPT</text>
<path d="M301.5,434.5 V429.5 H360.5 V434.5" fill="none" stroke="#000" stroke-width="1.35"/>
<text transform="translate(331,425.5) scale(1.08,1)" font-size="7.1" text-anchor="middle" fill="#111" stroke="#111" stroke-width="0.1" font-family="Liberation Sans">p=0.9397</text>
<path d="M301.5,453.5 V448.5 H331.5 V453.5" fill="none" stroke="#000" stroke-width="1.35"/>
<text transform="translate(316.6,444.5) scale(1.08,1)" font-size="7.1" text-anchor="middle" fill="#111" stroke="#111" stroke-width="0.1" font-family="Liberation Sans">p=0.0366</text>
<path d="M330.5,471.5 V466.5 H360.5 V471.5" fill="none" stroke="#000" stroke-width="1.35"/>
<text transform="translate(345.4,462.3) scale(1.08,1)" font-size="7.1" text-anchor="middle" fill="#111" stroke="#111" stroke-width="0.1" font-family="Liberation Sans">p=0.0245</text>
<line x1="455.8" y1="471.75" x2="455.8" y2="615.75" stroke="#000" stroke-width="1.5"/>
<line x1="449.6" y1="615" x2="455.8" y2="615" stroke="#000" stroke-width="1.5"/>
<text x="446" y="620.6" font-size="10" text-anchor="end" font-weight="normal" fill="#1a1a1a" font-family="Liberation Sans" stroke="#1a1a1a" stroke-width="0.08" >0</text>
<line x1="449.6" y1="586.5" x2="455.8" y2="586.5" stroke="#000" stroke-width="1.5"/>
<text x="446" y="592.1" font-size="10" text-anchor="end" font-weight="normal" fill="#1a1a1a" font-family="Liberation Sans" stroke="#1a1a1a" stroke-width="0.08" >10</text>
<line x1="449.6" y1="558" x2="455.8" y2="558" stroke="#000" stroke-width="1.5"/>
<text x="446" y="563.6" font-size="10" text-anchor="end" font-weight="normal" fill="#1a1a1a" font-family="Liberation Sans" stroke="#1a1a1a" stroke-width="0.08" >20</text>
<line x1="449.6" y1="529.5" x2="455.8" y2="529.5" stroke="#000" stroke-width="1.5"/>
<text x="446" y="535.1" font-size="10" text-anchor="end" font-weight="normal" fill="#1a1a1a" font-family="Liberation Sans" stroke="#1a1a1a" stroke-width="0.08" >30</text>
<line x1="449.6" y1="501" x2="455.8" y2="501" stroke="#000" stroke-width="1.5"/>
<text x="446" y="506.6" font-size="10" text-anchor="end" font-weight="normal" fill="#1a1a1a" font-family="Liberation Sans" stroke="#1a1a1a" stroke-width="0.08" >40</text>
<line x1="449.6" y1="472.5" x2="455.8" y2="472.5" stroke="#000" stroke-width="1.5"/>
<text x="446" y="478.1" font-size="10" text-anchor="end" font-weight="normal" fill="#1a1a1a" font-family="Liberation Sans" stroke="#1a1a1a" stroke-width="0.08" >50</text>
<rect x="466.6" y="579.2" width="20.8" height="35.8" fill="#000" stroke="#000" stroke-width="1.0"/>
<rect x="498.4" y="598.6" width="20" height="16.4" fill="#fff" stroke="#000" stroke-width="1.0"/>
<rect x="529.6" y="559" width="20" height="56" fill="#a8a8a8" stroke="#000" stroke-width="1.0"/>
<line x1="477" y1="574.6" x2="477" y2="583.8" stroke="#000" stroke-width="1.0"/>
<line x1="471.75" y1="574.6" x2="482.25" y2="574.6" stroke="#000" stroke-width="1.0"/>
<line x1="471.75" y1="583.8" x2="482.25" y2="583.8" stroke="#000" stroke-width="1.0"/>
<line x1="508.4" y1="594.6" x2="508.4" y2="602.6" stroke="#000" stroke-width="1.0"/>
<line x1="503.15" y1="594.6" x2="513.65" y2="594.6" stroke="#000" stroke-width="1.0"/>
<line x1="503.15" y1="602.6" x2="513.65" y2="602.6" stroke="#000" stroke-width="1.0"/>
<line x1="539.6" y1="552.4" x2="539.6" y2="565.4" stroke="#000" stroke-width="1.0"/>
<line x1="534.35" y1="552.4" x2="544.85" y2="552.4" stroke="#000" stroke-width="1.0"/>
<line x1="534.35" y1="565.4" x2="544.85" y2="565.4" stroke="#000" stroke-width="1.0"/>
<circle cx="477" cy="570.6" r="1.6" fill="#ff2212"/>
<circle cx="480" cy="581.4" r="1.6" fill="#ff2212"/>
<circle cx="473.6" cy="584.4" r="1.6" fill="#ff2212"/>
<circle cx="508" cy="591" r="1.6" fill="#ff2212"/>
<circle cx="511.6" cy="601.4" r="1.6" fill="#ff2212"/>
<circle cx="505" cy="603.4" r="1.6" fill="#ff2212"/>
<circle cx="539" cy="548.4" r="1.6" fill="#ff2212"/>
<circle cx="539" cy="557" r="1.6" fill="#ff2212"/>
<circle cx="539" cy="570.6" r="1.6" fill="#ff2212"/>
<line x1="455.05" y1="615" x2="560" y2="615" stroke="#000" stroke-width="1.5"/>
<text x="503.4" y="628.8" font-size="10.2" text-anchor="middle" font-weight="bold" fill="#000" font-family="Liberation Sans" >Untreated</text>
<path d="M477.5,505.5 V500.5 H536.5 V505.5" fill="none" stroke="#000" stroke-width="1.35"/>
<text transform="translate(506.7,495.9) scale(1.08,1)" font-size="7.1" text-anchor="middle" fill="#111" stroke="#111" stroke-width="0.1" font-family="Liberation Sans">p=0.0629</text>
<path d="M476.5,523.5 V518.5 H507.5 V523.5" fill="none" stroke="#000" stroke-width="1.35"/>
<text transform="translate(491.7,514.3) scale(1.08,1)" font-size="7.1" text-anchor="middle" fill="#111" stroke="#111" stroke-width="0.1" font-family="Liberation Sans">p=0.0705</text>
<path d="M505.5,542.5 V537.5 H536.5 V542.5" fill="none" stroke="#000" stroke-width="1.35"/>
<text transform="translate(520.7,532.9) scale(1.08,1)" font-size="7.1" text-anchor="middle" fill="#111" stroke="#111" stroke-width="0.1" font-family="Liberation Sans">p=0.0031</text>
<text transform="translate(426.3,547) rotate(-90)" font-size="10.3" text-anchor="middle" font-weight="normal" fill="#1a1a1a" stroke="#1a1a1a" stroke-width="0.08" font-family="Liberation Sans">% cells with micronuclei</text>
<line x1="584.4" y1="471.25" x2="584.4" y2="615.75" stroke="#000" stroke-width="1.5"/>
<line x1="578.4" y1="615" x2="584.4" y2="615" stroke="#000" stroke-width="1.5"/>
<text x="574" y="620.6" font-size="10" text-anchor="end" font-weight="normal" fill="#1a1a1a" font-family="Liberation Sans" stroke="#1a1a1a" stroke-width="0.08" >0</text>
<line x1="578.4" y1="586.4" x2="584.4" y2="586.4" stroke="#000" stroke-width="1.5"/>
<text x="574" y="592" font-size="10" text-anchor="end" font-weight="normal" fill="#1a1a1a" font-family="Liberation Sans" stroke="#1a1a1a" stroke-width="0.08" >10</text>
<line x1="578.4" y1="557.8" x2="584.4" y2="557.8" stroke="#000" stroke-width="1.5"/>
<text x="574" y="563.4" font-size="10" text-anchor="end" font-weight="normal" fill="#1a1a1a" font-family="Liberation Sans" stroke="#1a1a1a" stroke-width="0.08" >20</text>
<line x1="578.4" y1="529.2" x2="584.4" y2="529.2" stroke="#000" stroke-width="1.5"/>
<text x="574" y="534.8" font-size="10" text-anchor="end" font-weight="normal" fill="#1a1a1a" font-family="Liberation Sans" stroke="#1a1a1a" stroke-width="0.08" >30</text>
<line x1="578.4" y1="500.6" x2="584.4" y2="500.6" stroke="#000" stroke-width="1.5"/>
<text x="574" y="506.2" font-size="10" text-anchor="end" font-weight="normal" fill="#1a1a1a" font-family="Liberation Sans" stroke="#1a1a1a" stroke-width="0.08" >40</text>
<line x1="578.4" y1="472" x2="584.4" y2="472" stroke="#000" stroke-width="1.5"/>
<text x="574" y="477.6" font-size="10" text-anchor="end" font-weight="normal" fill="#1a1a1a" font-family="Liberation Sans" stroke="#1a1a1a" stroke-width="0.08" >50</text>
<rect x="594.4" y="562.4" width="19.6" height="52.6" fill="#000" stroke="#000" stroke-width="1.0"/>
<rect x="624" y="595" width="19.6" height="20" fill="#fff" stroke="#000" stroke-width="1.0"/>
<rect x="654" y="507.4" width="19.6" height="107.6" fill="#a8a8a8" stroke="#000" stroke-width="1.0"/>
<line x1="604.2" y1="556" x2="604.2" y2="568.8" stroke="#000" stroke-width="1.0"/>
<line x1="598.95" y1="556" x2="609.45" y2="556" stroke="#000" stroke-width="1.0"/>
<line x1="598.95" y1="568.8" x2="609.45" y2="568.8" stroke="#000" stroke-width="1.0"/>
<line x1="633.8" y1="592.4" x2="633.8" y2="597.6" stroke="#000" stroke-width="1.0"/>
<line x1="628.55" y1="592.4" x2="639.05" y2="592.4" stroke="#000" stroke-width="1.0"/>
<line x1="628.55" y1="597.6" x2="639.05" y2="597.6" stroke="#000" stroke-width="1.0"/>
<line x1="663.8" y1="496.6" x2="663.8" y2="517.4" stroke="#000" stroke-width="1.0"/>
<line x1="658.55" y1="496.6" x2="669.05" y2="496.6" stroke="#000" stroke-width="1.0"/>
<line x1="658.55" y1="517.4" x2="669.05" y2="517.4" stroke="#000" stroke-width="1.0"/>
<circle cx="601" cy="555" r="1.6" fill="#ff2212"/>
<circle cx="607" cy="555" r="1.6" fill="#ff2212"/>
<circle cx="604.4" cy="574.4" r="1.6" fill="#ff2212"/>
<circle cx="634" cy="591" r="1.6" fill="#ff2212"/>
<circle cx="634" cy="594.4" r="1.6" fill="#ff2212"/>
<circle cx="634" cy="598" r="1.6" fill="#ff2212"/>
<circle cx="663.6" cy="487" r="1.6" fill="#ff2212"/>
<circle cx="663.6" cy="512.4" r="1.6" fill="#ff2212"/>
<circle cx="663.6" cy="521.4" r="1.6" fill="#ff2212"/>
<line x1="583.65" y1="615" x2="677.6" y2="615" stroke="#000" stroke-width="1.5"/>
<text x="629.2" y="628" font-size="10.2" text-anchor="middle" font-weight="bold" fill="#000" font-family="Liberation Sans" >48h post-CPT</text>
<path d="M604.5,445.5 V440.5 H663.5 V445.5" fill="none" stroke="#000" stroke-width="1.35"/>
<text transform="translate(634,435.9) scale(1.08,1)" font-size="7.1" text-anchor="middle" fill="#111" stroke="#111" stroke-width="0.1" font-family="Liberation Sans">p=0.0034</text>
<path d="M603.5,463.5 V458.5 H634.5 V463.5" fill="none" stroke="#000" stroke-width="1.35"/>
<text transform="translate(619,453.9) scale(1.08,1)" font-size="7.1" text-anchor="middle" fill="#111" stroke="#111" stroke-width="0.1" font-family="Liberation Sans">p=0.0377</text>
<path d="M632.5,481.5 V476.5 H663.5 V481.5" fill="none" stroke="#000" stroke-width="1.35"/>
<text transform="translate(648,472.5) scale(1.08,1)" font-size="7.1" text-anchor="middle" fill="#111" stroke="#111" stroke-width="0.1" font-family="Liberation Sans">p=0.0003</text>
<line x1="133" y1="744.85" x2="133" y2="909.35" stroke="#000" stroke-width="1.5"/>
<line x1="126.6" y1="908.6" x2="133" y2="908.6" stroke="#000" stroke-width="1.5"/>
<text x="124" y="914.2" font-size="10" text-anchor="end" font-weight="normal" fill="#1a1a1a" font-family="Liberation Sans" stroke="#1a1a1a" stroke-width="0.08" >0</text>
<line x1="126.6" y1="854.6" x2="133" y2="854.6" stroke="#000" stroke-width="1.5"/>
<text x="124" y="860.2" font-size="10" text-anchor="end" font-weight="normal" fill="#1a1a1a" font-family="Liberation Sans" stroke="#1a1a1a" stroke-width="0.08" >20</text>
<line x1="126.6" y1="800" x2="133" y2="800" stroke="#000" stroke-width="1.5"/>
<text x="124" y="805.6" font-size="10" text-anchor="end" font-weight="normal" fill="#1a1a1a" font-family="Liberation Sans" stroke="#1a1a1a" stroke-width="0.08" >40</text>
<line x1="126.6" y1="745.6" x2="133" y2="745.6" stroke="#000" stroke-width="1.5"/>
<text x="124" y="751.2" font-size="10" text-anchor="end" font-weight="normal" fill="#1a1a1a" font-family="Liberation Sans" stroke="#1a1a1a" stroke-width="0.08" >60</text>
<rect x="138.4" y="883" width="9.6" height="25.6" fill="#000" stroke="#000" stroke-width="1.0"/>
<rect x="153.4" y="811.4" width="9.6" height="97.2" fill="#404040" stroke="#222" stroke-width="1.0"/>
<rect x="168.4" y="819.4" width="9.6" height="89.2" fill="#6e6e6e" stroke="#333" stroke-width="1.0"/>
<rect x="183.4" y="807.6" width="9.6" height="101" fill="#8e8e8e" stroke="#444" stroke-width="1.0"/>
<rect x="198.4" y="853.4" width="9.6" height="55.2" fill="#b4b4ba" stroke="#555" stroke-width="1.0"/>
<rect x="213" y="806" width="9.6" height="102.6" fill="#dcdcdc" stroke="#666" stroke-width="1.0"/>
<rect x="227.4" y="807.4" width="9.6" height="101.2" fill="#fff" stroke="#444" stroke-width="1.0"/>
<line x1="143.2" y1="878.4" x2="143.2" y2="887.6" stroke="#000" stroke-width="0.95"/>
<line x1="140.5" y1="878.4" x2="145.9" y2="878.4" stroke="#000" stroke-width="0.95"/>
<line x1="140.5" y1="887.6" x2="145.9" y2="887.6" stroke="#000" stroke-width="0.95"/>
<line x1="158.2" y1="805" x2="158.2" y2="817" stroke="#000" stroke-width="0.95"/>
<line x1="155.5" y1="805" x2="160.9" y2="805" stroke="#000" stroke-width="0.95"/>
<line x1="155.5" y1="817" x2="160.9" y2="817" stroke="#000" stroke-width="0.95"/>
<line x1="173.2" y1="816.6" x2="173.2" y2="822.2" stroke="#000" stroke-width="0.95"/>
<line x1="170.5" y1="816.6" x2="175.9" y2="816.6" stroke="#000" stroke-width="0.95"/>
<line x1="170.5" y1="822.2" x2="175.9" y2="822.2" stroke="#000" stroke-width="0.95"/>
<line x1="188.2" y1="805.5" x2="188.2" y2="809.7" stroke="#000" stroke-width="0.95"/>
<line x1="185.5" y1="805.5" x2="190.9" y2="805.5" stroke="#000" stroke-width="0.95"/>
<line x1="185.5" y1="809.7" x2="190.9" y2="809.7" stroke="#000" stroke-width="0.95"/>
<line x1="203.2" y1="850.4" x2="203.2" y2="856.4" stroke="#000" stroke-width="0.95"/>
<line x1="200.5" y1="850.4" x2="205.9" y2="850.4" stroke="#000" stroke-width="0.95"/>
<line x1="200.5" y1="856.4" x2="205.9" y2="856.4" stroke="#000" stroke-width="0.95"/>
<line x1="217.8" y1="799.4" x2="217.8" y2="811.4" stroke="#000" stroke-width="0.95"/>
<line x1="215.1" y1="799.4" x2="220.5" y2="799.4" stroke="#000" stroke-width="0.95"/>
<line x1="215.1" y1="811.4" x2="220.5" y2="811.4" stroke="#000" stroke-width="0.95"/>
<line x1="232.2" y1="801.4" x2="232.2" y2="812" stroke="#000" stroke-width="0.95"/>
<line x1="229.5" y1="801.4" x2="234.9" y2="801.4" stroke="#000" stroke-width="0.95"/>
<line x1="229.5" y1="812" x2="234.9" y2="812" stroke="#000" stroke-width="0.95"/>
<circle cx="143.4" cy="875" r="1.9" fill="#ff2212"/>
<circle cx="140" cy="886" r="1.9" fill="#ff2212"/>
<circle cx="146.4" cy="886" r="1.9" fill="#ff2212"/>
<circle cx="158" cy="799" r="1.9" fill="#ff2212"/>
<circle cx="155" cy="817" r="1.9" fill="#ff2212"/>
<circle cx="161" cy="817" r="1.9" fill="#ff2212"/>
<circle cx="169.6" cy="815.4" r="1.9" fill="#ff2212"/>
<circle cx="176.6" cy="818.4" r="1.9" fill="#ff2212"/>
<circle cx="173" cy="822.4" r="1.9" fill="#ff2212"/>
<circle cx="184.6" cy="804.4" r="1.9" fill="#ff2212"/>
<circle cx="191.4" cy="806" r="1.9" fill="#ff2212"/>
<circle cx="188.2" cy="811.4" r="1.9" fill="#ff2212"/>
<circle cx="203" cy="848" r="1.9" fill="#ff2212"/>
<circle cx="203" cy="854" r="1.9" fill="#ff2212"/>
<circle cx="203" cy="857" r="1.9" fill="#ff2212"/>
<circle cx="217.6" cy="796.6" r="1.9" fill="#ff2212"/>
<circle cx="217.6" cy="802.6" r="1.9" fill="#ff2212"/>
<circle cx="217.6" cy="817" r="1.9" fill="#ff2212"/>
<circle cx="232.6" cy="798.6" r="1.9" fill="#ff2212"/>
<circle cx="232.6" cy="805" r="1.9" fill="#ff2212"/>
<circle cx="232.6" cy="816.4" r="1.9" fill="#ff2212"/>
<line x1="132.25" y1="908.6" x2="241.6" y2="908.6" stroke="#000" stroke-width="1.5"/>
<text transform="translate(146.5,913.7) rotate(-90)" font-size="10.1" text-anchor="end" font-weight="normal" fill="#111" stroke="#111" stroke-width="0.08" font-family="Liberation Sans">WT1</text>
<text transform="translate(161.5,913.7) rotate(-90)" font-size="10.1" text-anchor="end" font-weight="normal" fill="#111" stroke="#111" stroke-width="0.08" font-family="Liberation Sans">ARPC4-P1.1</text>
<text transform="translate(176.5,913.7) rotate(-90)" font-size="10.1" text-anchor="end" font-weight="normal" fill="#111" stroke="#111" stroke-width="0.08" font-family="Liberation Sans">ARPC4-P1.2</text>
<text transform="translate(191.5,913.7) rotate(-90)" font-size="10.1" text-anchor="end" font-weight="normal" fill="#111" stroke="#111" stroke-width="0.08" font-family="Liberation Sans">ARPC1B-P1</text>
<text transform="translate(206.5,913.7) rotate(-90)" font-size="10.1" text-anchor="end" font-weight="normal" fill="#111" stroke="#111" stroke-width="0.08" font-family="Liberation Sans">ARPC1B-P2</text>
<text transform="translate(221.1,913.7) rotate(-90)" font-size="10.1" text-anchor="end" font-weight="normal" fill="#111" stroke="#111" stroke-width="0.08" font-family="Liberation Sans">ARPC5-P1</text>
<text transform="translate(235.5,913.7) rotate(-90)" font-size="10.1" text-anchor="end" font-weight="normal" fill="#111" stroke="#111" stroke-width="0.08" font-family="Liberation Sans">NBS</text>
<path d="M142.5,727.5 V723.5 H230.5 V727.5" fill="none" stroke="#000" stroke-width="1.35"/>
<text transform="translate(186.5,721.4) scale(1.09,1)" font-size="7.0" text-anchor="middle" fill="#111" stroke="#111" stroke-width="0.1" font-family="Liberation Sans">p=&lt;0.0001</text>
<path d="M142.5,741.5 V737.5 H218.5 V741.5" fill="none" stroke="#000" stroke-width="1.35"/>
<text transform="translate(180.5,735.4) scale(1.09,1)" font-size="7.0" text-anchor="middle" fill="#111" stroke="#111" stroke-width="0.1" font-family="Liberation Sans">p=&lt;0.0001</text>
<path d="M142.5,754.5 V750.5 H200.5 V754.5" fill="none" stroke="#000" stroke-width="1.35"/>
<text transform="translate(171.6,748.4) scale(1.09,1)" font-size="7.0" text-anchor="middle" fill="#111" stroke="#111" stroke-width="0.1" font-family="Liberation Sans">p=0.0012</text>
<path d="M142.5,768.5 V764.5 H186.5 V768.5" fill="none" stroke="#000" stroke-width="1.35"/>
<text transform="translate(164.5,761.8) scale(1.09,1)" font-size="7.0" text-anchor="middle" fill="#111" stroke="#111" stroke-width="0.1" font-family="Liberation Sans">p=&lt;0.0001</text>
<path d="M142.5,781.5 V777.5 H171.5 V781.5" fill="none" stroke="#000" stroke-width="1.35"/>
<text transform="translate(157.1,775.2) scale(1.09,1)" font-size="7.0" text-anchor="middle" fill="#111" stroke="#111" stroke-width="0.1" font-family="Liberation Sans">p=&lt;0.0001</text>
<path d="M142.5,794.5 V790.5 H157.5 V794.5" fill="none" stroke="#000" stroke-width="1.35"/>
<text transform="translate(154.2,787.8) scale(1.09,1)" font-size="7.0" text-anchor="middle" fill="#111" stroke="#111" stroke-width="0.1" font-family="Liberation Sans">p=&lt;0.0001</text>
<text transform="translate(99,820.8) rotate(-90)" font-size="10.3" text-anchor="middle" font-weight="normal" fill="#1a1a1a" stroke="#1a1a1a" stroke-width="0.08" font-family="Liberation Sans">% cells with &gt;10 &#947;-H2AX foci</text>
<text x="184.5" y="688.4" font-size="10.2" text-anchor="middle" font-weight="bold" fill="#000" font-family="Liberation Sans" >24 h post-CPT</text>
<line x1="430.5" y1="735.25" x2="430.5" y2="898.75" stroke="#000" stroke-width="1.5"/>
<line x1="424.5" y1="898" x2="430.5" y2="898" stroke="#000" stroke-width="1.5"/>
<text x="420.1" y="903.6" font-size="10" text-anchor="end" font-weight="normal" fill="#1a1a1a" font-family="Liberation Sans" stroke="#1a1a1a" stroke-width="0.08" >0</text>
<line x1="424.5" y1="844" x2="430.5" y2="844" stroke="#000" stroke-width="1.5"/>
<text x="420.1" y="849.6" font-size="10" text-anchor="end" font-weight="normal" fill="#1a1a1a" font-family="Liberation Sans" stroke="#1a1a1a" stroke-width="0.08" >10</text>
<line x1="424.5" y1="790" x2="430.5" y2="790" stroke="#000" stroke-width="1.5"/>
<text x="420.1" y="795.6" font-size="10" text-anchor="end" font-weight="normal" fill="#1a1a1a" font-family="Liberation Sans" stroke="#1a1a1a" stroke-width="0.08" >20</text>
<line x1="424.5" y1="736" x2="430.5" y2="736" stroke="#000" stroke-width="1.5"/>
<text x="420.1" y="741.6" font-size="10" text-anchor="end" font-weight="normal" fill="#1a1a1a" font-family="Liberation Sans" stroke="#1a1a1a" stroke-width="0.08" >30</text>
<rect x="435.6" y="884.4" width="9.4" height="13.6" fill="#000" stroke="#000" stroke-width="1.0"/>
<rect x="450.4" y="879.4" width="9.4" height="18.6" fill="#404040" stroke="#222" stroke-width="1.0"/>
<rect x="465.4" y="872.4" width="9.4" height="25.6" fill="#6e6e6e" stroke="#333" stroke-width="1.0"/>
<rect x="480" y="866.4" width="9.4" height="31.6" fill="#8e8e8e" stroke="#444" stroke-width="1.0"/>
<rect x="494.6" y="868" width="9.4" height="30" fill="#b4b4ba" stroke="#555" stroke-width="1.0"/>
<rect x="509.6" y="849.4" width="9.4" height="48.6" fill="#dcdcdc" stroke="#666" stroke-width="1.0"/>
<rect x="524.4" y="813.6" width="9.4" height="84.4" fill="#fff" stroke="#444" stroke-width="1.0"/>
<line x1="440.3" y1="882" x2="440.3" y2="886.8" stroke="#000" stroke-width="0.95"/>
<line x1="437.6" y1="882" x2="443" y2="882" stroke="#000" stroke-width="0.95"/>
<line x1="437.6" y1="886.8" x2="443" y2="886.8" stroke="#000" stroke-width="0.95"/>
<line x1="455.1" y1="877.4" x2="455.1" y2="881.4" stroke="#000" stroke-width="0.95"/>
<line x1="452.4" y1="877.4" x2="457.8" y2="877.4" stroke="#000" stroke-width="0.95"/>
<line x1="452.4" y1="881.4" x2="457.8" y2="881.4" stroke="#000" stroke-width="0.95"/>
<line x1="470.1" y1="868.6" x2="470.1" y2="876.2" stroke="#000" stroke-width="0.95"/>
<line x1="467.4" y1="868.6" x2="472.8" y2="868.6" stroke="#000" stroke-width="0.95"/>
<line x1="467.4" y1="876.2" x2="472.8" y2="876.2" stroke="#000" stroke-width="0.95"/>
<line x1="484.7" y1="861.6" x2="484.7" y2="870.6" stroke="#000" stroke-width="0.95"/>
<line x1="482" y1="861.6" x2="487.4" y2="861.6" stroke="#000" stroke-width="0.95"/>
<line x1="482" y1="870.6" x2="487.4" y2="870.6" stroke="#000" stroke-width="0.95"/>
<line x1="499.3" y1="859.6" x2="499.3" y2="875" stroke="#000" stroke-width="0.95"/>
<line x1="496.6" y1="859.6" x2="502" y2="859.6" stroke="#000" stroke-width="0.95"/>
<line x1="496.6" y1="875" x2="502" y2="875" stroke="#000" stroke-width="0.95"/>
<line x1="514.3" y1="844.4" x2="514.3" y2="853" stroke="#000" stroke-width="0.95"/>
<line x1="511.6" y1="844.4" x2="517" y2="844.4" stroke="#000" stroke-width="0.95"/>
<line x1="511.6" y1="853" x2="517" y2="853" stroke="#000" stroke-width="0.95"/>
<line x1="529.1" y1="811.5" x2="529.1" y2="815.7" stroke="#000" stroke-width="0.95"/>
<line x1="526.4" y1="811.5" x2="531.8" y2="811.5" stroke="#000" stroke-width="0.95"/>
<line x1="526.4" y1="815.7" x2="531.8" y2="815.7" stroke="#000" stroke-width="0.95"/>
<circle cx="440" cy="882" r="1.9" fill="#ff2212"/>
<circle cx="437" cy="884.4" r="1.9" fill="#ff2212"/>
<circle cx="443.4" cy="884.4" r="1.9" fill="#ff2212"/>
<circle cx="455" cy="875.6" r="1.9" fill="#ff2212"/>
<circle cx="451.6" cy="881" r="1.9" fill="#ff2212"/>
<circle cx="458.4" cy="881" r="1.9" fill="#ff2212"/>
<circle cx="466.6" cy="867.6" r="1.9" fill="#ff2212"/>
<circle cx="473" cy="870.4" r="1.9" fill="#ff2212"/>
<circle cx="470" cy="876.6" r="1.9" fill="#ff2212"/>
<circle cx="484.6" cy="857.6" r="1.9" fill="#ff2212"/>
<circle cx="484.6" cy="867" r="1.9" fill="#ff2212"/>
<circle cx="484.6" cy="872.4" r="1.9" fill="#ff2212"/>
<circle cx="499.4" cy="856" r="1.9" fill="#ff2212"/>
<circle cx="499.4" cy="864.4" r="1.9" fill="#ff2212"/>
<circle cx="499.4" cy="882.6" r="1.9" fill="#ff2212"/>
<circle cx="514.4" cy="841.4" r="1.9" fill="#ff2212"/>
<circle cx="514.4" cy="849" r="1.9" fill="#ff2212"/>
<circle cx="514.4" cy="857" r="1.9" fill="#ff2212"/>
<circle cx="525.4" cy="810" r="1.9" fill="#ff2212"/>
<circle cx="532.6" cy="813" r="1.9" fill="#ff2212"/>
<circle cx="529" cy="816.4" r="1.9" fill="#ff2212"/>
<line x1="429.75" y1="898" x2="539" y2="898" stroke="#000" stroke-width="1.5"/>
<text transform="translate(444.3,903) rotate(-90)" font-size="10.1" text-anchor="end" font-weight="normal" fill="#111" stroke="#111" stroke-width="0.08" font-family="Liberation Sans">WT1</text>
<text transform="translate(459.1,903) rotate(-90)" font-size="10.1" text-anchor="end" font-weight="normal" fill="#111" stroke="#111" stroke-width="0.08" font-family="Liberation Sans">ARPC4-P1.1</text>
<text transform="translate(474.1,903) rotate(-90)" font-size="10.1" text-anchor="end" font-weight="normal" fill="#111" stroke="#111" stroke-width="0.08" font-family="Liberation Sans">ARPC4-P1.2</text>
<text transform="translate(488.7,903) rotate(-90)" font-size="10.1" text-anchor="end" font-weight="normal" fill="#111" stroke="#111" stroke-width="0.08" font-family="Liberation Sans">ARPC1B-P1</text>
<text transform="translate(503.3,903) rotate(-90)" font-size="10.1" text-anchor="end" font-weight="normal" fill="#111" stroke="#111" stroke-width="0.08" font-family="Liberation Sans">ARPC1B-P2</text>
<text transform="translate(518.3,903) rotate(-90)" font-size="10.1" text-anchor="end" font-weight="normal" fill="#111" stroke="#111" stroke-width="0.08" font-family="Liberation Sans">ARPC5-P1</text>
<text transform="translate(533.1,903) rotate(-90)" font-size="10.1" text-anchor="end" font-weight="normal" fill="#111" stroke="#111" stroke-width="0.08" font-family="Liberation Sans">NBS</text>
<path d="M440.5,729.5 V725.5 H528.5 V729.5" fill="none" stroke="#000" stroke-width="1.35"/>
<text transform="translate(484.5,722.2) scale(1.09,1)" font-size="7.0" text-anchor="middle" fill="#111" stroke="#111" stroke-width="0.1" font-family="Liberation Sans">p=&lt;0.0001</text>
<path d="M440.5,741.5 V737.5 H516.5 V741.5" fill="none" stroke="#000" stroke-width="1.35"/>
<text transform="translate(478.4,734.8) scale(1.09,1)" font-size="7.0" text-anchor="middle" fill="#111" stroke="#111" stroke-width="0.1" font-family="Liberation Sans">p=0.0001</text>
<path d="M440.5,755.5 V751.5 H498.5 V755.5" fill="none" stroke="#000" stroke-width="1.35"/>
<text transform="translate(469.5,748.2) scale(1.09,1)" font-size="7.0" text-anchor="middle" fill="#111" stroke="#111" stroke-width="0.1" font-family="Liberation Sans">p=0.0572</text>
<path d="M440.5,768.5 V764.5 H484.5 V768.5" fill="none" stroke="#000" stroke-width="1.35"/>
<text transform="translate(462.4,761.2) scale(1.09,1)" font-size="7.0" text-anchor="middle" fill="#111" stroke="#111" stroke-width="0.1" font-family="Liberation Sans">p=0.0301</text>
<path d="M440.5,781.5 V777.5 H469.5 V781.5" fill="none" stroke="#000" stroke-width="1.35"/>
<text transform="translate(454.9,774.2) scale(1.09,1)" font-size="7.0" text-anchor="middle" fill="#111" stroke="#111" stroke-width="0.1" font-family="Liberation Sans">p=0.1941</text>
<path d="M440.5,794.5 V790.5 H455.5 V794.5" fill="none" stroke="#000" stroke-width="1.35"/>
<text transform="translate(449.3,787.6) scale(1.09,1)" font-size="7.0" text-anchor="middle" fill="#111" stroke="#111" stroke-width="0.1" font-family="Liberation Sans">p=0.9388</text>
<text transform="translate(401,818.7) rotate(-90)" font-size="10.3" text-anchor="middle" font-weight="normal" fill="#1a1a1a" stroke="#1a1a1a" stroke-width="0.08" font-family="Liberation Sans">% cells with micronuclei</text>
<text x="481.5" y="687.6" font-size="10.2" text-anchor="middle" font-weight="bold" fill="#000" font-family="Liberation Sans" >Untreated</text>
<line x1="567.7" y1="735.85" x2="567.7" y2="898.75" stroke="#000" stroke-width="1.5"/>
<line x1="561" y1="898" x2="567.7" y2="898" stroke="#000" stroke-width="1.5"/>
<text x="558" y="903.6" font-size="10" text-anchor="end" font-weight="normal" fill="#1a1a1a" font-family="Liberation Sans" stroke="#1a1a1a" stroke-width="0.08" >0</text>
<line x1="561" y1="844.4" x2="567.7" y2="844.4" stroke="#000" stroke-width="1.5"/>
<text x="558" y="850" font-size="10" text-anchor="end" font-weight="normal" fill="#1a1a1a" font-family="Liberation Sans" stroke="#1a1a1a" stroke-width="0.08" >10</text>
<line x1="561" y1="790.6" x2="567.7" y2="790.6" stroke="#000" stroke-width="1.5"/>
<text x="558" y="796.2" font-size="10" text-anchor="end" font-weight="normal" fill="#1a1a1a" font-family="Liberation Sans" stroke="#1a1a1a" stroke-width="0.08" >20</text>
<line x1="561" y1="736.6" x2="567.7" y2="736.6" stroke="#000" stroke-width="1.5"/>
<text x="558" y="742.2" font-size="10" text-anchor="end" font-weight="normal" fill="#1a1a1a" font-family="Liberation Sans" stroke="#1a1a1a" stroke-width="0.08" >30</text>
<rect x="572.4" y="867" width="9.6" height="31" fill="#000" stroke="#000" stroke-width="1.0"/>
<rect x="587.4" y="827" width="9.6" height="71" fill="#404040" stroke="#222" stroke-width="1.0"/>
<rect x="602.4" y="846.6" width="9.6" height="51.4" fill="#6e6e6e" stroke="#333" stroke-width="1.0"/>
<rect x="617.4" y="819.4" width="9.6" height="78.6" fill="#8e8e8e" stroke="#444" stroke-width="1.0"/>
<rect x="631.6" y="803.4" width="9.6" height="94.6" fill="#b4b4ba" stroke="#555" stroke-width="1.0"/>
<rect x="646.4" y="818.4" width="9.6" height="79.6" fill="#dcdcdc" stroke="#666" stroke-width="1.0"/>
<rect x="661.4" y="771" width="9.6" height="127" fill="#fff" stroke="#444" stroke-width="1.0"/>
<line x1="577.2" y1="862.4" x2="577.2" y2="871.6" stroke="#000" stroke-width="0.95"/>
<line x1="574.5" y1="862.4" x2="579.9" y2="862.4" stroke="#000" stroke-width="0.95"/>
<line x1="574.5" y1="871.6" x2="579.9" y2="871.6" stroke="#000" stroke-width="0.95"/>
<line x1="592.2" y1="814.4" x2="592.2" y2="839" stroke="#000" stroke-width="0.95"/>
<line x1="589.5" y1="814.4" x2="594.9" y2="814.4" stroke="#000" stroke-width="0.95"/>
<line x1="589.5" y1="839" x2="594.9" y2="839" stroke="#000" stroke-width="0.95"/>
<line x1="607.2" y1="837.6" x2="607.2" y2="855.4" stroke="#000" stroke-width="0.95"/>
<line x1="604.5" y1="837.6" x2="609.9" y2="837.6" stroke="#000" stroke-width="0.95"/>
<line x1="604.5" y1="855.4" x2="609.9" y2="855.4" stroke="#000" stroke-width="0.95"/>
<line x1="622.2" y1="815.6" x2="622.2" y2="823" stroke="#000" stroke-width="0.95"/>
<line x1="619.5" y1="815.6" x2="624.9" y2="815.6" stroke="#000" stroke-width="0.95"/>
<line x1="619.5" y1="823" x2="624.9" y2="823" stroke="#000" stroke-width="0.95"/>
<line x1="636.4" y1="794" x2="636.4" y2="812.4" stroke="#000" stroke-width="0.95"/>
<line x1="633.7" y1="794" x2="639.1" y2="794" stroke="#000" stroke-width="0.95"/>
<line x1="633.7" y1="812.4" x2="639.1" y2="812.4" stroke="#000" stroke-width="0.95"/>
<line x1="651.2" y1="813.4" x2="651.2" y2="822.4" stroke="#000" stroke-width="0.95"/>
<line x1="648.5" y1="813.4" x2="653.9" y2="813.4" stroke="#000" stroke-width="0.95"/>
<line x1="648.5" y1="822.4" x2="653.9" y2="822.4" stroke="#000" stroke-width="0.95"/>
<line x1="666.2" y1="768" x2="666.2" y2="774" stroke="#000" stroke-width="0.95"/>
<line x1="663.5" y1="768" x2="668.9" y2="768" stroke="#000" stroke-width="0.95"/>
<line x1="663.5" y1="774" x2="668.9" y2="774" stroke="#000" stroke-width="0.95"/>
<circle cx="577.4" cy="857.6" r="1.9" fill="#ff2212"/>
<circle cx="574" cy="871.4" r="1.9" fill="#ff2212"/>
<circle cx="580.4" cy="871.4" r="1.9" fill="#ff2212"/>
<circle cx="592" cy="805" r="1.9" fill="#ff2212"/>
<circle cx="592" cy="827" r="1.9" fill="#ff2212"/>
<circle cx="592" cy="847.6" r="1.9" fill="#ff2212"/>
<circle cx="606.6" cy="831" r="1.9" fill="#ff2212"/>
<circle cx="606.6" cy="847" r="1.9" fill="#ff2212"/>
<circle cx="606.6" cy="861" r="1.9" fill="#ff2212"/>
<circle cx="622" cy="812" r="1.9" fill="#ff2212"/>
<circle cx="622" cy="821" r="1.9" fill="#ff2212"/>
<circle cx="622" cy="824.6" r="1.9" fill="#ff2212"/>
<circle cx="633" cy="793.4" r="1.9" fill="#ff2212"/>
<circle cx="640" cy="793.4" r="1.9" fill="#ff2212"/>
<circle cx="636.6" cy="821.6" r="1.9" fill="#ff2212"/>
<circle cx="651.4" cy="808.6" r="1.9" fill="#ff2212"/>
<circle cx="648" cy="822.4" r="1.9" fill="#ff2212"/>
<circle cx="654.6" cy="822.4" r="1.9" fill="#ff2212"/>
<circle cx="663" cy="766.4" r="1.9" fill="#ff2212"/>
<circle cx="669.4" cy="769" r="1.9" fill="#ff2212"/>
<circle cx="666" cy="776.4" r="1.9" fill="#ff2212"/>
<line x1="566.95" y1="898" x2="675.4" y2="898" stroke="#000" stroke-width="1.5"/>
<text transform="translate(581.2,903) rotate(-90)" font-size="10.1" text-anchor="end" font-weight="normal" fill="#111" stroke="#111" stroke-width="0.08" font-family="Liberation Sans">WT1</text>
<text transform="translate(596.2,903) rotate(-90)" font-size="10.1" text-anchor="end" font-weight="normal" fill="#111" stroke="#111" stroke-width="0.08" font-family="Liberation Sans">ARPC4-P1.1</text>
<text transform="translate(611.2,903) rotate(-90)" font-size="10.1" text-anchor="end" font-weight="normal" fill="#111" stroke="#111" stroke-width="0.08" font-family="Liberation Sans">ARPC4-P1.2</text>
<text transform="translate(626.2,903) rotate(-90)" font-size="10.1" text-anchor="end" font-weight="normal" fill="#111" stroke="#111" stroke-width="0.08" font-family="Liberation Sans">ARPC1B-P1</text>
<text transform="translate(640.4,903) rotate(-90)" font-size="10.1" text-anchor="end" font-weight="normal" fill="#111" stroke="#111" stroke-width="0.08" font-family="Liberation Sans">ARPC1B-P2</text>
<text transform="translate(655.2,903) rotate(-90)" font-size="10.1" text-anchor="end" font-weight="normal" fill="#111" stroke="#111" stroke-width="0.08" font-family="Liberation Sans">ARPC5-P1</text>
<text transform="translate(670.2,903) rotate(-90)" font-size="10.1" text-anchor="end" font-weight="normal" fill="#111" stroke="#111" stroke-width="0.08" font-family="Liberation Sans">NBS</text>
<path d="M576.5,728.5 V724.5 H664.5 V728.5" fill="none" stroke="#000" stroke-width="1.35"/>
<text transform="translate(620.6,721.8) scale(1.09,1)" font-size="7.0" text-anchor="middle" fill="#111" stroke="#111" stroke-width="0.1" font-family="Liberation Sans">p=&lt;0.0001</text>
<path d="M576.5,741.5 V737.5 H652.5 V741.5" fill="none" stroke="#000" stroke-width="1.35"/>
<text transform="translate(614.3,734.8) scale(1.09,1)" font-size="7.0" text-anchor="middle" fill="#111" stroke="#111" stroke-width="0.1" font-family="Liberation Sans">p=0.0017</text>
<path d="M576.5,755.5 V751.5 H634.5 V755.5" fill="none" stroke="#000" stroke-width="1.35"/>
<text transform="translate(605.6,748.6) scale(1.09,1)" font-size="7.0" text-anchor="middle" fill="#111" stroke="#111" stroke-width="0.1" font-family="Liberation Sans">p=0.0001</text>
<path d="M576.5,768.5 V764.5 H620.5 V768.5" fill="none" stroke="#000" stroke-width="1.35"/>
<text transform="translate(598.6,761.6) scale(1.09,1)" font-size="7.0" text-anchor="middle" fill="#111" stroke="#111" stroke-width="0.1" font-family="Liberation Sans">p=0.0021</text>
<path d="M576.5,781.5 V777.5 H605.5 V781.5" fill="none" stroke="#000" stroke-width="1.35"/>
<text transform="translate(592,774.8) scale(1.09,1)" font-size="7.0" text-anchor="middle" fill="#111" stroke="#111" stroke-width="0.1" font-family="Liberation Sans">p=0.2552</text>
<path d="M576.5,794.5 V790.5 H591.5 V794.5" fill="none" stroke="#000" stroke-width="1.35"/>
<text transform="translate(585.8,787.6) scale(1.09,1)" font-size="7.0" text-anchor="middle" fill="#111" stroke="#111" stroke-width="0.1" font-family="Liberation Sans">p=0.0079</text>
<text x="622.5" y="688" font-size="10.2" text-anchor="middle" font-weight="bold" fill="#000" font-family="Liberation Sans" >48 h post-CPT</text>
</svg></body></html>
